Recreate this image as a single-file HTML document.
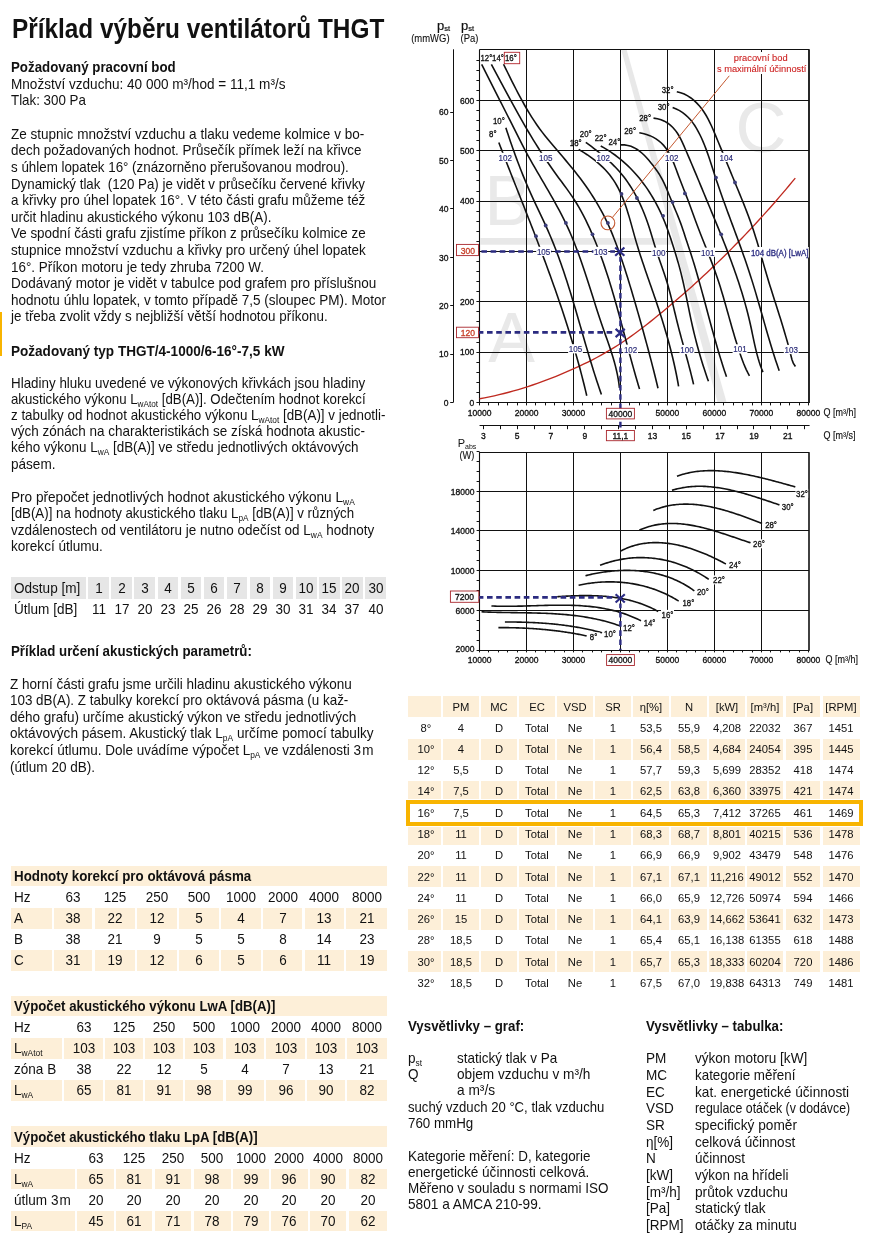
<!DOCTYPE html><html lang="cs"><head><meta charset="utf-8"><title>Příklad výběru ventilátorů THGT</title>
<style>
*{margin:0;padding:0;box-sizing:border-box}
html,body{width:883px;height:1247px;background:#fff;overflow:hidden}
body{position:relative;font-family:"Liberation Sans", Arial, Helvetica, sans-serif;color:#111}
.tb{position:absolute;white-space:nowrap;transform-origin:0 0}
.ct{position:absolute;white-space:nowrap;text-align:center;transform-origin:50% 0}
sub{font-size:0.62em;vertical-align:-3.3px;line-height:0}
.yb{position:absolute;left:0;top:312px;width:1.9px;height:44px;background:#f8b400}
.gb{position:absolute;background:#e6e6e6}
.pb{position:absolute;background:#fdefd8}
.hl{position:absolute;left:406px;top:800.2px;width:456.9px;height:25.5px;border:4.7px solid #f8b400;box-shadow:0 0 0 1px #fff}
.chart{position:absolute;left:400px;top:0}
</style></head><body>
<div class="tb " style="left:11.60px;top:14.04px;font-size:27.3px;line-height:30px;transform:scaleX(0.8925);font-weight:bold;">Příklad výběru ventilátorů THGT</div>
<div class="tb " style="left:10.80px;top:58.57px;font-size:14.2px;line-height:16.61px;transform:scaleX(0.9370);"><b>Požadovaný pracovní bod</b></div>
<div class="tb " style="left:10.80px;top:75.77px;font-size:14.2px;line-height:16.61px;transform:scaleX(0.9557);">Množství vzduchu: 40 000 m³/hod = 11,1 m³/s</div>
<div class="tb " style="left:10.80px;top:91.57px;font-size:14.2px;line-height:16.61px;transform:scaleX(0.9400);">Tlak: 300 Pa</div>
<div class="tb " style="left:10.80px;top:125.72px;font-size:14.2px;line-height:16.61px;transform:scaleX(0.9530);">Ze stupnic množství vzduchu a tlaku vedeme kolmice v bo-</div>
<div class="tb " style="left:10.80px;top:142.33px;font-size:14.2px;line-height:16.61px;transform:scaleX(0.9457);">dech požadovaných hodnot. Průsečík přímek leží na křivce</div>
<div class="tb " style="left:10.80px;top:158.94px;font-size:14.2px;line-height:16.61px;transform:scaleX(0.9410);">s úhlem lopatek 16° (znázorněno přerušovanou modrou).</div>
<div class="tb " style="left:10.80px;top:175.55px;font-size:14.2px;line-height:16.61px;transform:scaleX(0.9371);">Dynamický tlak &nbsp;(120 Pa) je vidět v průsečíku červené křivky</div>
<div class="tb " style="left:10.80px;top:192.16px;font-size:14.2px;line-height:16.61px;transform:scaleX(0.9476);">a křivky pro úhel lopatek 16°. V této části grafu můžeme též</div>
<div class="tb " style="left:10.80px;top:208.77px;font-size:14.2px;line-height:16.61px;transform:scaleX(0.9433);">určit hladinu akustického výkonu 103 dB(A).</div>
<div class="tb " style="left:10.80px;top:225.38px;font-size:14.2px;line-height:16.61px;transform:scaleX(0.9449);">Ve spodní části grafu zjistíme příkon z průsečíku kolmice ze</div>
<div class="tb " style="left:10.80px;top:241.99px;font-size:14.2px;line-height:16.61px;transform:scaleX(0.9492);">stupnice množství vzduchu a křivky pro určený úhel lopatek</div>
<div class="tb " style="left:10.80px;top:258.60px;font-size:14.2px;line-height:16.61px;transform:scaleX(0.9453);">16°. Příkon motoru je tedy zhruba 7200 W.</div>
<div class="tb " style="left:10.80px;top:275.21px;font-size:14.2px;line-height:16.61px;transform:scaleX(0.9530);">Dodávaný motor je vidět v tabulce pod grafem pro příslušnou</div>
<div class="tb " style="left:10.80px;top:291.82px;font-size:14.2px;line-height:16.61px;transform:scaleX(0.9530);">hodnotu úhlu lopatek, v tomto případě 7,5 (sloupec PM). Motor</div>
<div class="tb " style="left:10.80px;top:308.43px;font-size:14.2px;line-height:16.61px;transform:scaleX(0.9448);">je třeba zvolit vždy s nejbližší větší hodnotou příkonu.</div>
<div class="yb"></div>
<div class="tb " style="left:10.80px;top:342.57px;font-size:14.2px;line-height:16.61px;transform:scaleX(0.9550);"><b>Požadovaný typ THGT/4-1000/6-16°-7,5 kW</b></div>
<div class="tb " style="left:10.80px;top:375.03px;font-size:14.2px;line-height:16.1px;transform:scaleX(0.9438);">Hladiny hluku uvedené ve výkonových křivkách jsou hladiny</div>
<div class="tb " style="left:10.80px;top:391.13px;font-size:14.2px;line-height:16.1px;transform:scaleX(0.9332);">akustického výkonu L<sub>wAtot</sub> [dB(A)]. Odečtením hodnot korekcí</div>
<div class="tb " style="left:10.80px;top:407.23px;font-size:14.2px;line-height:16.1px;transform:scaleX(0.9423);">z tabulky od hodnot akustického výkonu L<sub>wAtot</sub> [dB(A)] v jednotli-</div>
<div class="tb " style="left:10.80px;top:423.33px;font-size:14.2px;line-height:16.1px;transform:scaleX(0.9490);">vých zónách na charakteristikách se získá hodnota akustic-</div>
<div class="tb " style="left:10.80px;top:439.43px;font-size:14.2px;line-height:16.1px;transform:scaleX(0.9468);">kého výkonu L<sub>wA</sub> [dB(A)] ve středu jednotlivých oktávových</div>
<div class="tb " style="left:10.80px;top:455.53px;font-size:14.2px;line-height:16.1px;transform:scaleX(0.9550);">pásem.</div>
<div class="tb " style="left:10.80px;top:488.68px;font-size:14.2px;line-height:16.6px;transform:scaleX(0.9590);">Pro přepočet jednotlivých hodnot akustického výkonu L<sub>wA</sub></div>
<div class="tb " style="left:10.80px;top:505.28px;font-size:14.2px;line-height:16.6px;transform:scaleX(0.9364);">[dB(A)] na hodnoty akustického tlaku L<sub>pA</sub> [dB(A)] v různých</div>
<div class="tb " style="left:10.80px;top:521.88px;font-size:14.2px;line-height:16.6px;transform:scaleX(0.9504);">vzdálenostech od ventilátoru je nutno odečíst od L<sub>wA</sub> hodnoty</div>
<div class="tb " style="left:10.80px;top:538.48px;font-size:14.2px;line-height:16.6px;transform:scaleX(0.9550);">korekcí útlumu.</div>
<div class="gb" style="left:10.9px;top:577.1px;width:75.2px;height:21.6px"></div>
<div class="gb" style="left:88.30px;top:577.1px;width:20.5px;height:21.6px"></div>
<div class="gb" style="left:111.38px;top:577.1px;width:20.5px;height:21.6px"></div>
<div class="gb" style="left:134.46px;top:577.1px;width:20.5px;height:21.6px"></div>
<div class="gb" style="left:157.54px;top:577.1px;width:20.5px;height:21.6px"></div>
<div class="gb" style="left:180.62px;top:577.1px;width:20.5px;height:21.6px"></div>
<div class="gb" style="left:203.70px;top:577.1px;width:20.5px;height:21.6px"></div>
<div class="gb" style="left:226.78px;top:577.1px;width:20.5px;height:21.6px"></div>
<div class="gb" style="left:249.86px;top:577.1px;width:20.5px;height:21.6px"></div>
<div class="gb" style="left:272.94px;top:577.1px;width:20.5px;height:21.6px"></div>
<div class="gb" style="left:296.02px;top:577.1px;width:20.5px;height:21.6px"></div>
<div class="gb" style="left:319.10px;top:577.1px;width:20.5px;height:21.6px"></div>
<div class="gb" style="left:342.18px;top:577.1px;width:20.5px;height:21.6px"></div>
<div class="gb" style="left:365.26px;top:577.1px;width:20.5px;height:21.6px"></div>
<div class="tb " style="left:13.60px;top:579.68px;font-size:14.2px;line-height:16px;transform:scaleX(0.9550);">Odstup [m]</div>
<div class="tb " style="left:13.60px;top:600.88px;font-size:14.2px;line-height:16px;transform:scaleX(0.9550);">Útlum [dB]</div>
<div class="ct" style="left:68.55px;top:579.68px;width:60px;font-size:14.2px;line-height:16px;transform:scaleX(0.95)">1</div>
<div class="ct" style="left:68.55px;top:600.88px;width:60px;font-size:14.2px;line-height:16px;transform:scaleX(0.95)">11</div>
<div class="ct" style="left:91.63px;top:579.68px;width:60px;font-size:14.2px;line-height:16px;transform:scaleX(0.95)">2</div>
<div class="ct" style="left:91.63px;top:600.88px;width:60px;font-size:14.2px;line-height:16px;transform:scaleX(0.95)">17</div>
<div class="ct" style="left:114.71px;top:579.68px;width:60px;font-size:14.2px;line-height:16px;transform:scaleX(0.95)">3</div>
<div class="ct" style="left:114.71px;top:600.88px;width:60px;font-size:14.2px;line-height:16px;transform:scaleX(0.95)">20</div>
<div class="ct" style="left:137.79px;top:579.68px;width:60px;font-size:14.2px;line-height:16px;transform:scaleX(0.95)">4</div>
<div class="ct" style="left:137.79px;top:600.88px;width:60px;font-size:14.2px;line-height:16px;transform:scaleX(0.95)">23</div>
<div class="ct" style="left:160.87px;top:579.68px;width:60px;font-size:14.2px;line-height:16px;transform:scaleX(0.95)">5</div>
<div class="ct" style="left:160.87px;top:600.88px;width:60px;font-size:14.2px;line-height:16px;transform:scaleX(0.95)">25</div>
<div class="ct" style="left:183.95px;top:579.68px;width:60px;font-size:14.2px;line-height:16px;transform:scaleX(0.95)">6</div>
<div class="ct" style="left:183.95px;top:600.88px;width:60px;font-size:14.2px;line-height:16px;transform:scaleX(0.95)">26</div>
<div class="ct" style="left:207.03px;top:579.68px;width:60px;font-size:14.2px;line-height:16px;transform:scaleX(0.95)">7</div>
<div class="ct" style="left:207.03px;top:600.88px;width:60px;font-size:14.2px;line-height:16px;transform:scaleX(0.95)">28</div>
<div class="ct" style="left:230.11px;top:579.68px;width:60px;font-size:14.2px;line-height:16px;transform:scaleX(0.95)">8</div>
<div class="ct" style="left:230.11px;top:600.88px;width:60px;font-size:14.2px;line-height:16px;transform:scaleX(0.95)">29</div>
<div class="ct" style="left:253.19px;top:579.68px;width:60px;font-size:14.2px;line-height:16px;transform:scaleX(0.95)">9</div>
<div class="ct" style="left:253.19px;top:600.88px;width:60px;font-size:14.2px;line-height:16px;transform:scaleX(0.95)">30</div>
<div class="ct" style="left:276.27px;top:579.68px;width:60px;font-size:14.2px;line-height:16px;transform:scaleX(0.95)">10</div>
<div class="ct" style="left:276.27px;top:600.88px;width:60px;font-size:14.2px;line-height:16px;transform:scaleX(0.95)">31</div>
<div class="ct" style="left:299.35px;top:579.68px;width:60px;font-size:14.2px;line-height:16px;transform:scaleX(0.95)">15</div>
<div class="ct" style="left:299.35px;top:600.88px;width:60px;font-size:14.2px;line-height:16px;transform:scaleX(0.95)">34</div>
<div class="ct" style="left:322.43px;top:579.68px;width:60px;font-size:14.2px;line-height:16px;transform:scaleX(0.95)">20</div>
<div class="ct" style="left:322.43px;top:600.88px;width:60px;font-size:14.2px;line-height:16px;transform:scaleX(0.95)">37</div>
<div class="ct" style="left:345.51px;top:579.68px;width:60px;font-size:14.2px;line-height:16px;transform:scaleX(0.95)">30</div>
<div class="ct" style="left:345.51px;top:600.88px;width:60px;font-size:14.2px;line-height:16px;transform:scaleX(0.95)">40</div>
<div class="tb " style="left:10.80px;top:642.67px;font-size:14.2px;line-height:16.61px;transform:scaleX(0.9370);"><b>Příklad určení akustických parametrů:</b></div>
<div class="tb " style="left:9.90px;top:675.81px;font-size:14.2px;line-height:16.54px;transform:scaleX(0.9527);">Z horní části grafu jsme určili hladinu akustického výkonu</div>
<div class="tb " style="left:9.90px;top:692.35px;font-size:14.2px;line-height:16.54px;transform:scaleX(0.9450);">103 dB(A). Z tabulky korekcí pro oktávová pásma (u kaž-</div>
<div class="tb " style="left:9.90px;top:708.89px;font-size:14.2px;line-height:16.54px;transform:scaleX(0.9522);">dého grafu) určíme akustický výkon ve středu jednotlivých</div>
<div class="tb " style="left:9.90px;top:725.43px;font-size:14.2px;line-height:16.54px;transform:scaleX(0.9571);">oktávových pásem. Akustický tlak L<sub>pA</sub> určíme pomocí tabulky</div>
<div class="tb " style="left:9.90px;top:741.97px;font-size:14.2px;line-height:16.54px;transform:scaleX(0.9518);">korekcí útlumu. Dole uvádíme výpočet L<sub>pA</sub> ve vzdálenosti 3&#8202;m</div>
<div class="tb " style="left:9.90px;top:758.51px;font-size:14.2px;line-height:16.54px;transform:scaleX(0.9550);">(útlum 20 dB).</div>
<div class="pb" style="left:10.9px;top:865.7px;width:376.2px;height:20.4px"></div>
<div class="tb " style="left:13.50px;top:868.08px;font-size:14.2px;line-height:16px;transform:scaleX(0.9400);"><b>Hodnoty korekcí pro oktávová pásma</b></div>
<div class="tb " style="left:13.90px;top:889.15px;font-size:14.2px;line-height:16px;transform:scaleX(0.9550);">Hz</div>
<div class="ct" style="left:43.15px;top:889.15px;width:60px;font-size:14.2px;line-height:16px;transform:scaleX(0.95)">63</div>
<div class="ct" style="left:84.95px;top:889.15px;width:60px;font-size:14.2px;line-height:16px;transform:scaleX(0.95)">125</div>
<div class="ct" style="left:126.85px;top:889.15px;width:60px;font-size:14.2px;line-height:16px;transform:scaleX(0.95)">250</div>
<div class="ct" style="left:168.80px;top:889.15px;width:60px;font-size:14.2px;line-height:16px;transform:scaleX(0.95)">500</div>
<div class="ct" style="left:211.00px;top:889.15px;width:60px;font-size:14.2px;line-height:16px;transform:scaleX(0.95)">1000</div>
<div class="ct" style="left:252.65px;top:889.15px;width:60px;font-size:14.2px;line-height:16px;transform:scaleX(0.95)">2000</div>
<div class="ct" style="left:294.20px;top:889.15px;width:60px;font-size:14.2px;line-height:16px;transform:scaleX(0.95)">4000</div>
<div class="ct" style="left:336.60px;top:889.15px;width:60px;font-size:14.2px;line-height:16px;transform:scaleX(0.95)">8000</div>
<div class="pb" style="left:10.9px;top:907.94px;width:40.7px;height:20.7px"></div>
<div class="pb" style="left:53.9px;top:907.94px;width:38.5px;height:20.7px"></div>
<div class="pb" style="left:95.1px;top:907.94px;width:39.7px;height:20.7px"></div>
<div class="pb" style="left:137px;top:907.94px;width:39.7px;height:20.7px"></div>
<div class="pb" style="left:179px;top:907.94px;width:39.6px;height:20.7px"></div>
<div class="pb" style="left:221.3px;top:907.94px;width:39.4px;height:20.7px"></div>
<div class="pb" style="left:263.4px;top:907.94px;width:38.5px;height:20.7px"></div>
<div class="pb" style="left:304.6px;top:907.94px;width:39.2px;height:20.7px"></div>
<div class="pb" style="left:346.1px;top:907.94px;width:41.0px;height:20.7px"></div>
<div class="tb " style="left:13.90px;top:910.22px;font-size:14.2px;line-height:16px;transform:scaleX(0.9550);">A</div>
<div class="ct" style="left:43.15px;top:910.22px;width:60px;font-size:14.2px;line-height:16px;transform:scaleX(0.95)">38</div>
<div class="ct" style="left:84.95px;top:910.22px;width:60px;font-size:14.2px;line-height:16px;transform:scaleX(0.95)">22</div>
<div class="ct" style="left:126.85px;top:910.22px;width:60px;font-size:14.2px;line-height:16px;transform:scaleX(0.95)">12</div>
<div class="ct" style="left:168.80px;top:910.22px;width:60px;font-size:14.2px;line-height:16px;transform:scaleX(0.95)">5</div>
<div class="ct" style="left:211.00px;top:910.22px;width:60px;font-size:14.2px;line-height:16px;transform:scaleX(0.95)">4</div>
<div class="ct" style="left:252.65px;top:910.22px;width:60px;font-size:14.2px;line-height:16px;transform:scaleX(0.95)">7</div>
<div class="ct" style="left:294.20px;top:910.22px;width:60px;font-size:14.2px;line-height:16px;transform:scaleX(0.95)">13</div>
<div class="ct" style="left:336.60px;top:910.22px;width:60px;font-size:14.2px;line-height:16px;transform:scaleX(0.95)">21</div>
<div class="tb " style="left:13.90px;top:931.29px;font-size:14.2px;line-height:16px;transform:scaleX(0.9550);">B</div>
<div class="ct" style="left:43.15px;top:931.29px;width:60px;font-size:14.2px;line-height:16px;transform:scaleX(0.95)">38</div>
<div class="ct" style="left:84.95px;top:931.29px;width:60px;font-size:14.2px;line-height:16px;transform:scaleX(0.95)">21</div>
<div class="ct" style="left:126.85px;top:931.29px;width:60px;font-size:14.2px;line-height:16px;transform:scaleX(0.95)">9</div>
<div class="ct" style="left:168.80px;top:931.29px;width:60px;font-size:14.2px;line-height:16px;transform:scaleX(0.95)">5</div>
<div class="ct" style="left:211.00px;top:931.29px;width:60px;font-size:14.2px;line-height:16px;transform:scaleX(0.95)">5</div>
<div class="ct" style="left:252.65px;top:931.29px;width:60px;font-size:14.2px;line-height:16px;transform:scaleX(0.95)">8</div>
<div class="ct" style="left:294.20px;top:931.29px;width:60px;font-size:14.2px;line-height:16px;transform:scaleX(0.95)">14</div>
<div class="ct" style="left:336.60px;top:931.29px;width:60px;font-size:14.2px;line-height:16px;transform:scaleX(0.95)">23</div>
<div class="pb" style="left:10.9px;top:950.08px;width:40.7px;height:20.7px"></div>
<div class="pb" style="left:53.9px;top:950.08px;width:38.5px;height:20.7px"></div>
<div class="pb" style="left:95.1px;top:950.08px;width:39.7px;height:20.7px"></div>
<div class="pb" style="left:137px;top:950.08px;width:39.7px;height:20.7px"></div>
<div class="pb" style="left:179px;top:950.08px;width:39.6px;height:20.7px"></div>
<div class="pb" style="left:221.3px;top:950.08px;width:39.4px;height:20.7px"></div>
<div class="pb" style="left:263.4px;top:950.08px;width:38.5px;height:20.7px"></div>
<div class="pb" style="left:304.6px;top:950.08px;width:39.2px;height:20.7px"></div>
<div class="pb" style="left:346.1px;top:950.08px;width:41.0px;height:20.7px"></div>
<div class="tb " style="left:13.90px;top:952.36px;font-size:14.2px;line-height:16px;transform:scaleX(0.9550);">C</div>
<div class="ct" style="left:43.15px;top:952.36px;width:60px;font-size:14.2px;line-height:16px;transform:scaleX(0.95)">31</div>
<div class="ct" style="left:84.95px;top:952.36px;width:60px;font-size:14.2px;line-height:16px;transform:scaleX(0.95)">19</div>
<div class="ct" style="left:126.85px;top:952.36px;width:60px;font-size:14.2px;line-height:16px;transform:scaleX(0.95)">12</div>
<div class="ct" style="left:168.80px;top:952.36px;width:60px;font-size:14.2px;line-height:16px;transform:scaleX(0.95)">6</div>
<div class="ct" style="left:211.00px;top:952.36px;width:60px;font-size:14.2px;line-height:16px;transform:scaleX(0.95)">5</div>
<div class="ct" style="left:252.65px;top:952.36px;width:60px;font-size:14.2px;line-height:16px;transform:scaleX(0.95)">6</div>
<div class="ct" style="left:294.20px;top:952.36px;width:60px;font-size:14.2px;line-height:16px;transform:scaleX(0.95)">11</div>
<div class="ct" style="left:336.60px;top:952.36px;width:60px;font-size:14.2px;line-height:16px;transform:scaleX(0.95)">19</div>
<div class="pb" style="left:10.9px;top:995.7px;width:376.2px;height:20.4px"></div>
<div class="tb " style="left:13.50px;top:998.08px;font-size:14.2px;line-height:16px;transform:scaleX(0.9330);"><b>Výpočet akustického výkonu LwA [dB(A)]</b></div>
<div class="tb " style="left:13.90px;top:1019.15px;font-size:14.2px;line-height:16px;transform:scaleX(0.9550);">Hz</div>
<div class="ct" style="left:53.55px;top:1019.15px;width:60px;font-size:14.2px;line-height:16px;transform:scaleX(0.95)">63</div>
<div class="ct" style="left:94.00px;top:1019.15px;width:60px;font-size:14.2px;line-height:16px;transform:scaleX(0.95)">125</div>
<div class="ct" style="left:134.10px;top:1019.15px;width:60px;font-size:14.2px;line-height:16px;transform:scaleX(0.95)">250</div>
<div class="ct" style="left:174.30px;top:1019.15px;width:60px;font-size:14.2px;line-height:16px;transform:scaleX(0.95)">500</div>
<div class="ct" style="left:214.95px;top:1019.15px;width:60px;font-size:14.2px;line-height:16px;transform:scaleX(0.95)">1000</div>
<div class="ct" style="left:255.50px;top:1019.15px;width:60px;font-size:14.2px;line-height:16px;transform:scaleX(0.95)">2000</div>
<div class="ct" style="left:296.05px;top:1019.15px;width:60px;font-size:14.2px;line-height:16px;transform:scaleX(0.95)">4000</div>
<div class="ct" style="left:337.15px;top:1019.15px;width:60px;font-size:14.2px;line-height:16px;transform:scaleX(0.95)">8000</div>
<div class="pb" style="left:10.9px;top:1037.94px;width:50.7px;height:20.7px"></div>
<div class="pb" style="left:64.1px;top:1037.94px;width:38.9px;height:20.7px"></div>
<div class="pb" style="left:105.3px;top:1037.94px;width:37.4px;height:20.7px"></div>
<div class="pb" style="left:145.2px;top:1037.94px;width:37.8px;height:20.7px"></div>
<div class="pb" style="left:185.3px;top:1037.94px;width:38.0px;height:20.7px"></div>
<div class="pb" style="left:226px;top:1037.94px;width:37.9px;height:20.7px"></div>
<div class="pb" style="left:266.4px;top:1037.94px;width:38.2px;height:20.7px"></div>
<div class="pb" style="left:307.1px;top:1037.94px;width:37.9px;height:20.7px"></div>
<div class="pb" style="left:347.2px;top:1037.94px;width:39.9px;height:20.7px"></div>
<div class="tb " style="left:13.90px;top:1040.22px;font-size:14.2px;line-height:16px;transform:scaleX(0.9550);">L<sub>wAtot</sub></div>
<div class="ct" style="left:53.55px;top:1040.22px;width:60px;font-size:14.2px;line-height:16px;transform:scaleX(0.95)">103</div>
<div class="ct" style="left:94.00px;top:1040.22px;width:60px;font-size:14.2px;line-height:16px;transform:scaleX(0.95)">103</div>
<div class="ct" style="left:134.10px;top:1040.22px;width:60px;font-size:14.2px;line-height:16px;transform:scaleX(0.95)">103</div>
<div class="ct" style="left:174.30px;top:1040.22px;width:60px;font-size:14.2px;line-height:16px;transform:scaleX(0.95)">103</div>
<div class="ct" style="left:214.95px;top:1040.22px;width:60px;font-size:14.2px;line-height:16px;transform:scaleX(0.95)">103</div>
<div class="ct" style="left:255.50px;top:1040.22px;width:60px;font-size:14.2px;line-height:16px;transform:scaleX(0.95)">103</div>
<div class="ct" style="left:296.05px;top:1040.22px;width:60px;font-size:14.2px;line-height:16px;transform:scaleX(0.95)">103</div>
<div class="ct" style="left:337.15px;top:1040.22px;width:60px;font-size:14.2px;line-height:16px;transform:scaleX(0.95)">103</div>
<div class="tb " style="left:13.90px;top:1061.29px;font-size:14.2px;line-height:16px;transform:scaleX(0.9550);">zóna B</div>
<div class="ct" style="left:53.55px;top:1061.29px;width:60px;font-size:14.2px;line-height:16px;transform:scaleX(0.95)">38</div>
<div class="ct" style="left:94.00px;top:1061.29px;width:60px;font-size:14.2px;line-height:16px;transform:scaleX(0.95)">22</div>
<div class="ct" style="left:134.10px;top:1061.29px;width:60px;font-size:14.2px;line-height:16px;transform:scaleX(0.95)">12</div>
<div class="ct" style="left:174.30px;top:1061.29px;width:60px;font-size:14.2px;line-height:16px;transform:scaleX(0.95)">5</div>
<div class="ct" style="left:214.95px;top:1061.29px;width:60px;font-size:14.2px;line-height:16px;transform:scaleX(0.95)">4</div>
<div class="ct" style="left:255.50px;top:1061.29px;width:60px;font-size:14.2px;line-height:16px;transform:scaleX(0.95)">7</div>
<div class="ct" style="left:296.05px;top:1061.29px;width:60px;font-size:14.2px;line-height:16px;transform:scaleX(0.95)">13</div>
<div class="ct" style="left:337.15px;top:1061.29px;width:60px;font-size:14.2px;line-height:16px;transform:scaleX(0.95)">21</div>
<div class="pb" style="left:10.9px;top:1080.08px;width:50.7px;height:20.7px"></div>
<div class="pb" style="left:64.1px;top:1080.08px;width:38.9px;height:20.7px"></div>
<div class="pb" style="left:105.3px;top:1080.08px;width:37.4px;height:20.7px"></div>
<div class="pb" style="left:145.2px;top:1080.08px;width:37.8px;height:20.7px"></div>
<div class="pb" style="left:185.3px;top:1080.08px;width:38.0px;height:20.7px"></div>
<div class="pb" style="left:226px;top:1080.08px;width:37.9px;height:20.7px"></div>
<div class="pb" style="left:266.4px;top:1080.08px;width:38.2px;height:20.7px"></div>
<div class="pb" style="left:307.1px;top:1080.08px;width:37.9px;height:20.7px"></div>
<div class="pb" style="left:347.2px;top:1080.08px;width:39.9px;height:20.7px"></div>
<div class="tb " style="left:13.90px;top:1082.36px;font-size:14.2px;line-height:16px;transform:scaleX(0.9550);">L<sub>wA</sub></div>
<div class="ct" style="left:53.55px;top:1082.36px;width:60px;font-size:14.2px;line-height:16px;transform:scaleX(0.95)">65</div>
<div class="ct" style="left:94.00px;top:1082.36px;width:60px;font-size:14.2px;line-height:16px;transform:scaleX(0.95)">81</div>
<div class="ct" style="left:134.10px;top:1082.36px;width:60px;font-size:14.2px;line-height:16px;transform:scaleX(0.95)">91</div>
<div class="ct" style="left:174.30px;top:1082.36px;width:60px;font-size:14.2px;line-height:16px;transform:scaleX(0.95)">98</div>
<div class="ct" style="left:214.95px;top:1082.36px;width:60px;font-size:14.2px;line-height:16px;transform:scaleX(0.95)">99</div>
<div class="ct" style="left:255.50px;top:1082.36px;width:60px;font-size:14.2px;line-height:16px;transform:scaleX(0.95)">96</div>
<div class="ct" style="left:296.05px;top:1082.36px;width:60px;font-size:14.2px;line-height:16px;transform:scaleX(0.95)">90</div>
<div class="ct" style="left:337.15px;top:1082.36px;width:60px;font-size:14.2px;line-height:16px;transform:scaleX(0.95)">82</div>
<div class="pb" style="left:10.9px;top:1126.3px;width:376.2px;height:20.4px"></div>
<div class="tb " style="left:13.50px;top:1128.68px;font-size:14.2px;line-height:16px;transform:scaleX(0.9330);"><b>Výpočet akustického tlaku LpA [dB(A)]</b></div>
<div class="tb " style="left:13.90px;top:1149.75px;font-size:14.2px;line-height:16px;transform:scaleX(0.9550);">Hz</div>
<div class="ct" style="left:65.55px;top:1149.75px;width:60px;font-size:14.2px;line-height:16px;transform:scaleX(0.95)">63</div>
<div class="ct" style="left:104.30px;top:1149.75px;width:60px;font-size:14.2px;line-height:16px;transform:scaleX(0.95)">125</div>
<div class="ct" style="left:143.30px;top:1149.75px;width:60px;font-size:14.2px;line-height:16px;transform:scaleX(0.95)">250</div>
<div class="ct" style="left:182.35px;top:1149.75px;width:60px;font-size:14.2px;line-height:16px;transform:scaleX(0.95)">500</div>
<div class="ct" style="left:220.95px;top:1149.75px;width:60px;font-size:14.2px;line-height:16px;transform:scaleX(0.95)">1000</div>
<div class="ct" style="left:259.45px;top:1149.75px;width:60px;font-size:14.2px;line-height:16px;transform:scaleX(0.95)">2000</div>
<div class="ct" style="left:298.40px;top:1149.75px;width:60px;font-size:14.2px;line-height:16px;transform:scaleX(0.95)">4000</div>
<div class="ct" style="left:338.20px;top:1149.75px;width:60px;font-size:14.2px;line-height:16px;transform:scaleX(0.95)">8000</div>
<div class="pb" style="left:10.9px;top:1168.54px;width:63.8px;height:20.7px"></div>
<div class="pb" style="left:77.2px;top:1168.54px;width:36.7px;height:20.7px"></div>
<div class="pb" style="left:116.2px;top:1168.54px;width:36.2px;height:20.7px"></div>
<div class="pb" style="left:155.2px;top:1168.54px;width:36.2px;height:20.7px"></div>
<div class="pb" style="left:194.1px;top:1168.54px;width:36.5px;height:20.7px"></div>
<div class="pb" style="left:233.3px;top:1168.54px;width:35.3px;height:20.7px"></div>
<div class="pb" style="left:271.3px;top:1168.54px;width:36.3px;height:20.7px"></div>
<div class="pb" style="left:310.3px;top:1168.54px;width:36.2px;height:20.7px"></div>
<div class="pb" style="left:349.3px;top:1168.54px;width:37.8px;height:20.7px"></div>
<div class="tb " style="left:13.90px;top:1170.82px;font-size:14.2px;line-height:16px;transform:scaleX(0.9550);">L<sub>wA</sub></div>
<div class="ct" style="left:65.55px;top:1170.82px;width:60px;font-size:14.2px;line-height:16px;transform:scaleX(0.95)">65</div>
<div class="ct" style="left:104.30px;top:1170.82px;width:60px;font-size:14.2px;line-height:16px;transform:scaleX(0.95)">81</div>
<div class="ct" style="left:143.30px;top:1170.82px;width:60px;font-size:14.2px;line-height:16px;transform:scaleX(0.95)">91</div>
<div class="ct" style="left:182.35px;top:1170.82px;width:60px;font-size:14.2px;line-height:16px;transform:scaleX(0.95)">98</div>
<div class="ct" style="left:220.95px;top:1170.82px;width:60px;font-size:14.2px;line-height:16px;transform:scaleX(0.95)">99</div>
<div class="ct" style="left:259.45px;top:1170.82px;width:60px;font-size:14.2px;line-height:16px;transform:scaleX(0.95)">96</div>
<div class="ct" style="left:298.40px;top:1170.82px;width:60px;font-size:14.2px;line-height:16px;transform:scaleX(0.95)">90</div>
<div class="ct" style="left:338.20px;top:1170.82px;width:60px;font-size:14.2px;line-height:16px;transform:scaleX(0.95)">82</div>
<div class="tb " style="left:13.90px;top:1191.89px;font-size:14.2px;line-height:16px;transform:scaleX(0.9550);">útlum 3&#8202;m</div>
<div class="ct" style="left:65.55px;top:1191.89px;width:60px;font-size:14.2px;line-height:16px;transform:scaleX(0.95)">20</div>
<div class="ct" style="left:104.30px;top:1191.89px;width:60px;font-size:14.2px;line-height:16px;transform:scaleX(0.95)">20</div>
<div class="ct" style="left:143.30px;top:1191.89px;width:60px;font-size:14.2px;line-height:16px;transform:scaleX(0.95)">20</div>
<div class="ct" style="left:182.35px;top:1191.89px;width:60px;font-size:14.2px;line-height:16px;transform:scaleX(0.95)">20</div>
<div class="ct" style="left:220.95px;top:1191.89px;width:60px;font-size:14.2px;line-height:16px;transform:scaleX(0.95)">20</div>
<div class="ct" style="left:259.45px;top:1191.89px;width:60px;font-size:14.2px;line-height:16px;transform:scaleX(0.95)">20</div>
<div class="ct" style="left:298.40px;top:1191.89px;width:60px;font-size:14.2px;line-height:16px;transform:scaleX(0.95)">20</div>
<div class="ct" style="left:338.20px;top:1191.89px;width:60px;font-size:14.2px;line-height:16px;transform:scaleX(0.95)">20</div>
<div class="pb" style="left:10.9px;top:1210.68px;width:63.8px;height:20.7px"></div>
<div class="pb" style="left:77.2px;top:1210.68px;width:36.7px;height:20.7px"></div>
<div class="pb" style="left:116.2px;top:1210.68px;width:36.2px;height:20.7px"></div>
<div class="pb" style="left:155.2px;top:1210.68px;width:36.2px;height:20.7px"></div>
<div class="pb" style="left:194.1px;top:1210.68px;width:36.5px;height:20.7px"></div>
<div class="pb" style="left:233.3px;top:1210.68px;width:35.3px;height:20.7px"></div>
<div class="pb" style="left:271.3px;top:1210.68px;width:36.3px;height:20.7px"></div>
<div class="pb" style="left:310.3px;top:1210.68px;width:36.2px;height:20.7px"></div>
<div class="pb" style="left:349.3px;top:1210.68px;width:37.8px;height:20.7px"></div>
<div class="tb " style="left:13.90px;top:1212.96px;font-size:14.2px;line-height:16px;transform:scaleX(0.9550);">L<sub>PA</sub></div>
<div class="ct" style="left:65.55px;top:1212.96px;width:60px;font-size:14.2px;line-height:16px;transform:scaleX(0.95)">45</div>
<div class="ct" style="left:104.30px;top:1212.96px;width:60px;font-size:14.2px;line-height:16px;transform:scaleX(0.95)">61</div>
<div class="ct" style="left:143.30px;top:1212.96px;width:60px;font-size:14.2px;line-height:16px;transform:scaleX(0.95)">71</div>
<div class="ct" style="left:182.35px;top:1212.96px;width:60px;font-size:14.2px;line-height:16px;transform:scaleX(0.95)">78</div>
<div class="ct" style="left:220.95px;top:1212.96px;width:60px;font-size:14.2px;line-height:16px;transform:scaleX(0.95)">79</div>
<div class="ct" style="left:259.45px;top:1212.96px;width:60px;font-size:14.2px;line-height:16px;transform:scaleX(0.95)">76</div>
<div class="ct" style="left:298.40px;top:1212.96px;width:60px;font-size:14.2px;line-height:16px;transform:scaleX(0.95)">70</div>
<div class="ct" style="left:338.20px;top:1212.96px;width:60px;font-size:14.2px;line-height:16px;transform:scaleX(0.95)">62</div>
<div class="pb" style="left:408.3px;top:696.20px;width:32.5px;height:21.1px"></div>
<div class="pb" style="left:443px;top:696.20px;width:35.8px;height:21.1px"></div>
<div class="pb" style="left:481px;top:696.20px;width:35.9px;height:21.1px"></div>
<div class="pb" style="left:519px;top:696.20px;width:35.9px;height:21.1px"></div>
<div class="pb" style="left:557.1px;top:696.20px;width:35.9px;height:21.1px"></div>
<div class="pb" style="left:595.2px;top:696.20px;width:35.8px;height:21.1px"></div>
<div class="pb" style="left:633.2px;top:696.20px;width:35.4px;height:21.1px"></div>
<div class="pb" style="left:671.3px;top:696.20px;width:35.6px;height:21.1px"></div>
<div class="pb" style="left:709.4px;top:696.20px;width:35.3px;height:21.1px"></div>
<div class="pb" style="left:747.4px;top:696.20px;width:35.4px;height:21.1px"></div>
<div class="pb" style="left:785.5px;top:696.20px;width:34.8px;height:21.1px"></div>
<div class="pb" style="left:823px;top:696.20px;width:36.9px;height:21.1px"></div>
<div class="ct" style="left:435.90px;top:699.08px;width:50px;font-size:11.6px;line-height:16px;transform:scaleX(0.97)">PM</div>
<div class="ct" style="left:473.95px;top:699.08px;width:50px;font-size:11.6px;line-height:16px;transform:scaleX(0.97)">MC</div>
<div class="ct" style="left:511.95px;top:699.08px;width:50px;font-size:11.6px;line-height:16px;transform:scaleX(0.97)">EC</div>
<div class="ct" style="left:550.05px;top:699.08px;width:50px;font-size:11.6px;line-height:16px;transform:scaleX(0.97)">VSD</div>
<div class="ct" style="left:588.10px;top:699.08px;width:50px;font-size:11.6px;line-height:16px;transform:scaleX(0.97)">SR</div>
<div class="ct" style="left:625.90px;top:699.08px;width:50px;font-size:11.6px;line-height:16px;transform:scaleX(0.97)">η[%]</div>
<div class="ct" style="left:664.10px;top:699.08px;width:50px;font-size:11.6px;line-height:16px;transform:scaleX(0.97)">N</div>
<div class="ct" style="left:702.05px;top:699.08px;width:50px;font-size:11.6px;line-height:16px;transform:scaleX(0.97)">[kW]</div>
<div class="ct" style="left:740.10px;top:699.08px;width:50px;font-size:11.6px;line-height:16px;transform:scaleX(0.97)">[m³/h]</div>
<div class="ct" style="left:777.90px;top:699.08px;width:50px;font-size:11.6px;line-height:16px;transform:scaleX(0.97)">[Pa]</div>
<div class="ct" style="left:816.45px;top:699.08px;width:50px;font-size:11.6px;line-height:16px;transform:scaleX(0.97)">[RPM]</div>
<div class="ct" style="left:400.75px;top:719.68px;width:50px;font-size:11.6px;line-height:16px;transform:scaleX(0.97)">8°</div>
<div class="ct" style="left:435.90px;top:719.68px;width:50px;font-size:11.6px;line-height:16px;transform:scaleX(0.97)">4</div>
<div class="ct" style="left:473.95px;top:719.68px;width:50px;font-size:11.6px;line-height:16px;transform:scaleX(0.97)">D</div>
<div class="ct" style="left:511.95px;top:719.68px;width:50px;font-size:11.6px;line-height:16px;transform:scaleX(0.97)">Total</div>
<div class="ct" style="left:550.05px;top:719.68px;width:50px;font-size:11.6px;line-height:16px;transform:scaleX(0.97)">Ne</div>
<div class="ct" style="left:588.10px;top:719.68px;width:50px;font-size:11.6px;line-height:16px;transform:scaleX(0.97)">1</div>
<div class="ct" style="left:625.90px;top:719.68px;width:50px;font-size:11.6px;line-height:16px;transform:scaleX(0.97)">53,5</div>
<div class="ct" style="left:664.10px;top:719.68px;width:50px;font-size:11.6px;line-height:16px;transform:scaleX(0.97)">55,9</div>
<div class="ct" style="left:702.05px;top:719.68px;width:50px;font-size:11.6px;line-height:16px;transform:scaleX(0.97)">4,208</div>
<div class="ct" style="left:740.10px;top:719.68px;width:50px;font-size:11.6px;line-height:16px;transform:scaleX(0.97)">22032</div>
<div class="ct" style="left:777.90px;top:719.68px;width:50px;font-size:11.6px;line-height:16px;transform:scaleX(0.97)">367</div>
<div class="ct" style="left:816.45px;top:719.68px;width:50px;font-size:11.6px;line-height:16px;transform:scaleX(0.97)">1451</div>
<div class="pb" style="left:408.3px;top:738.70px;width:32.5px;height:21.1px"></div>
<div class="pb" style="left:443px;top:738.70px;width:35.8px;height:21.1px"></div>
<div class="pb" style="left:481px;top:738.70px;width:35.9px;height:21.1px"></div>
<div class="pb" style="left:519px;top:738.70px;width:35.9px;height:21.1px"></div>
<div class="pb" style="left:557.1px;top:738.70px;width:35.9px;height:21.1px"></div>
<div class="pb" style="left:595.2px;top:738.70px;width:35.8px;height:21.1px"></div>
<div class="pb" style="left:633.2px;top:738.70px;width:35.4px;height:21.1px"></div>
<div class="pb" style="left:671.3px;top:738.70px;width:35.6px;height:21.1px"></div>
<div class="pb" style="left:709.4px;top:738.70px;width:35.3px;height:21.1px"></div>
<div class="pb" style="left:747.4px;top:738.70px;width:35.4px;height:21.1px"></div>
<div class="pb" style="left:785.5px;top:738.70px;width:34.8px;height:21.1px"></div>
<div class="pb" style="left:823px;top:738.70px;width:36.9px;height:21.1px"></div>
<div class="ct" style="left:400.75px;top:740.95px;width:50px;font-size:11.6px;line-height:16px;transform:scaleX(0.97)">10°</div>
<div class="ct" style="left:435.90px;top:740.95px;width:50px;font-size:11.6px;line-height:16px;transform:scaleX(0.97)">4</div>
<div class="ct" style="left:473.95px;top:740.95px;width:50px;font-size:11.6px;line-height:16px;transform:scaleX(0.97)">D</div>
<div class="ct" style="left:511.95px;top:740.95px;width:50px;font-size:11.6px;line-height:16px;transform:scaleX(0.97)">Total</div>
<div class="ct" style="left:550.05px;top:740.95px;width:50px;font-size:11.6px;line-height:16px;transform:scaleX(0.97)">Ne</div>
<div class="ct" style="left:588.10px;top:740.95px;width:50px;font-size:11.6px;line-height:16px;transform:scaleX(0.97)">1</div>
<div class="ct" style="left:625.90px;top:740.95px;width:50px;font-size:11.6px;line-height:16px;transform:scaleX(0.97)">56,4</div>
<div class="ct" style="left:664.10px;top:740.95px;width:50px;font-size:11.6px;line-height:16px;transform:scaleX(0.97)">58,5</div>
<div class="ct" style="left:702.05px;top:740.95px;width:50px;font-size:11.6px;line-height:16px;transform:scaleX(0.97)">4,684</div>
<div class="ct" style="left:740.10px;top:740.95px;width:50px;font-size:11.6px;line-height:16px;transform:scaleX(0.97)">24054</div>
<div class="ct" style="left:777.90px;top:740.95px;width:50px;font-size:11.6px;line-height:16px;transform:scaleX(0.97)">395</div>
<div class="ct" style="left:816.45px;top:740.95px;width:50px;font-size:11.6px;line-height:16px;transform:scaleX(0.97)">1445</div>
<div class="ct" style="left:400.75px;top:762.22px;width:50px;font-size:11.6px;line-height:16px;transform:scaleX(0.97)">12°</div>
<div class="ct" style="left:435.90px;top:762.22px;width:50px;font-size:11.6px;line-height:16px;transform:scaleX(0.97)">5,5</div>
<div class="ct" style="left:473.95px;top:762.22px;width:50px;font-size:11.6px;line-height:16px;transform:scaleX(0.97)">D</div>
<div class="ct" style="left:511.95px;top:762.22px;width:50px;font-size:11.6px;line-height:16px;transform:scaleX(0.97)">Total</div>
<div class="ct" style="left:550.05px;top:762.22px;width:50px;font-size:11.6px;line-height:16px;transform:scaleX(0.97)">Ne</div>
<div class="ct" style="left:588.10px;top:762.22px;width:50px;font-size:11.6px;line-height:16px;transform:scaleX(0.97)">1</div>
<div class="ct" style="left:625.90px;top:762.22px;width:50px;font-size:11.6px;line-height:16px;transform:scaleX(0.97)">57,7</div>
<div class="ct" style="left:664.10px;top:762.22px;width:50px;font-size:11.6px;line-height:16px;transform:scaleX(0.97)">59,3</div>
<div class="ct" style="left:702.05px;top:762.22px;width:50px;font-size:11.6px;line-height:16px;transform:scaleX(0.97)">5,699</div>
<div class="ct" style="left:740.10px;top:762.22px;width:50px;font-size:11.6px;line-height:16px;transform:scaleX(0.97)">28352</div>
<div class="ct" style="left:777.90px;top:762.22px;width:50px;font-size:11.6px;line-height:16px;transform:scaleX(0.97)">418</div>
<div class="ct" style="left:816.45px;top:762.22px;width:50px;font-size:11.6px;line-height:16px;transform:scaleX(0.97)">1474</div>
<div class="pb" style="left:408.3px;top:781.20px;width:32.5px;height:21.1px"></div>
<div class="pb" style="left:443px;top:781.20px;width:35.8px;height:21.1px"></div>
<div class="pb" style="left:481px;top:781.20px;width:35.9px;height:21.1px"></div>
<div class="pb" style="left:519px;top:781.20px;width:35.9px;height:21.1px"></div>
<div class="pb" style="left:557.1px;top:781.20px;width:35.9px;height:21.1px"></div>
<div class="pb" style="left:595.2px;top:781.20px;width:35.8px;height:21.1px"></div>
<div class="pb" style="left:633.2px;top:781.20px;width:35.4px;height:21.1px"></div>
<div class="pb" style="left:671.3px;top:781.20px;width:35.6px;height:21.1px"></div>
<div class="pb" style="left:709.4px;top:781.20px;width:35.3px;height:21.1px"></div>
<div class="pb" style="left:747.4px;top:781.20px;width:35.4px;height:21.1px"></div>
<div class="pb" style="left:785.5px;top:781.20px;width:34.8px;height:21.1px"></div>
<div class="pb" style="left:823px;top:781.20px;width:36.9px;height:21.1px"></div>
<div class="ct" style="left:400.75px;top:783.49px;width:50px;font-size:11.6px;line-height:16px;transform:scaleX(0.97)">14°</div>
<div class="ct" style="left:435.90px;top:783.49px;width:50px;font-size:11.6px;line-height:16px;transform:scaleX(0.97)">7,5</div>
<div class="ct" style="left:473.95px;top:783.49px;width:50px;font-size:11.6px;line-height:16px;transform:scaleX(0.97)">D</div>
<div class="ct" style="left:511.95px;top:783.49px;width:50px;font-size:11.6px;line-height:16px;transform:scaleX(0.97)">Total</div>
<div class="ct" style="left:550.05px;top:783.49px;width:50px;font-size:11.6px;line-height:16px;transform:scaleX(0.97)">Ne</div>
<div class="ct" style="left:588.10px;top:783.49px;width:50px;font-size:11.6px;line-height:16px;transform:scaleX(0.97)">1</div>
<div class="ct" style="left:625.90px;top:783.49px;width:50px;font-size:11.6px;line-height:16px;transform:scaleX(0.97)">62,5</div>
<div class="ct" style="left:664.10px;top:783.49px;width:50px;font-size:11.6px;line-height:16px;transform:scaleX(0.97)">63,8</div>
<div class="ct" style="left:702.05px;top:783.49px;width:50px;font-size:11.6px;line-height:16px;transform:scaleX(0.97)">6,360</div>
<div class="ct" style="left:740.10px;top:783.49px;width:50px;font-size:11.6px;line-height:16px;transform:scaleX(0.97)">33975</div>
<div class="ct" style="left:777.90px;top:783.49px;width:50px;font-size:11.6px;line-height:16px;transform:scaleX(0.97)">421</div>
<div class="ct" style="left:816.45px;top:783.49px;width:50px;font-size:11.6px;line-height:16px;transform:scaleX(0.97)">1474</div>
<div class="ct" style="left:400.75px;top:804.76px;width:50px;font-size:11.6px;line-height:16px;transform:scaleX(0.97)">16°</div>
<div class="ct" style="left:435.90px;top:804.76px;width:50px;font-size:11.6px;line-height:16px;transform:scaleX(0.97)">7,5</div>
<div class="ct" style="left:473.95px;top:804.76px;width:50px;font-size:11.6px;line-height:16px;transform:scaleX(0.97)">D</div>
<div class="ct" style="left:511.95px;top:804.76px;width:50px;font-size:11.6px;line-height:16px;transform:scaleX(0.97)">Total</div>
<div class="ct" style="left:550.05px;top:804.76px;width:50px;font-size:11.6px;line-height:16px;transform:scaleX(0.97)">Ne</div>
<div class="ct" style="left:588.10px;top:804.76px;width:50px;font-size:11.6px;line-height:16px;transform:scaleX(0.97)">1</div>
<div class="ct" style="left:625.90px;top:804.76px;width:50px;font-size:11.6px;line-height:16px;transform:scaleX(0.97)">64,5</div>
<div class="ct" style="left:664.10px;top:804.76px;width:50px;font-size:11.6px;line-height:16px;transform:scaleX(0.97)">65,3</div>
<div class="ct" style="left:702.05px;top:804.76px;width:50px;font-size:11.6px;line-height:16px;transform:scaleX(0.97)">7,412</div>
<div class="ct" style="left:740.10px;top:804.76px;width:50px;font-size:11.6px;line-height:16px;transform:scaleX(0.97)">37265</div>
<div class="ct" style="left:777.90px;top:804.76px;width:50px;font-size:11.6px;line-height:16px;transform:scaleX(0.97)">461</div>
<div class="ct" style="left:816.45px;top:804.76px;width:50px;font-size:11.6px;line-height:16px;transform:scaleX(0.97)">1469</div>
<div class="pb" style="left:408.3px;top:823.70px;width:32.5px;height:21.1px"></div>
<div class="pb" style="left:443px;top:823.70px;width:35.8px;height:21.1px"></div>
<div class="pb" style="left:481px;top:823.70px;width:35.9px;height:21.1px"></div>
<div class="pb" style="left:519px;top:823.70px;width:35.9px;height:21.1px"></div>
<div class="pb" style="left:557.1px;top:823.70px;width:35.9px;height:21.1px"></div>
<div class="pb" style="left:595.2px;top:823.70px;width:35.8px;height:21.1px"></div>
<div class="pb" style="left:633.2px;top:823.70px;width:35.4px;height:21.1px"></div>
<div class="pb" style="left:671.3px;top:823.70px;width:35.6px;height:21.1px"></div>
<div class="pb" style="left:709.4px;top:823.70px;width:35.3px;height:21.1px"></div>
<div class="pb" style="left:747.4px;top:823.70px;width:35.4px;height:21.1px"></div>
<div class="pb" style="left:785.5px;top:823.70px;width:34.8px;height:21.1px"></div>
<div class="pb" style="left:823px;top:823.70px;width:36.9px;height:21.1px"></div>
<div class="ct" style="left:400.75px;top:826.03px;width:50px;font-size:11.6px;line-height:16px;transform:scaleX(0.97)">18°</div>
<div class="ct" style="left:435.90px;top:826.03px;width:50px;font-size:11.6px;line-height:16px;transform:scaleX(0.97)">11</div>
<div class="ct" style="left:473.95px;top:826.03px;width:50px;font-size:11.6px;line-height:16px;transform:scaleX(0.97)">D</div>
<div class="ct" style="left:511.95px;top:826.03px;width:50px;font-size:11.6px;line-height:16px;transform:scaleX(0.97)">Total</div>
<div class="ct" style="left:550.05px;top:826.03px;width:50px;font-size:11.6px;line-height:16px;transform:scaleX(0.97)">Ne</div>
<div class="ct" style="left:588.10px;top:826.03px;width:50px;font-size:11.6px;line-height:16px;transform:scaleX(0.97)">1</div>
<div class="ct" style="left:625.90px;top:826.03px;width:50px;font-size:11.6px;line-height:16px;transform:scaleX(0.97)">68,3</div>
<div class="ct" style="left:664.10px;top:826.03px;width:50px;font-size:11.6px;line-height:16px;transform:scaleX(0.97)">68,7</div>
<div class="ct" style="left:702.05px;top:826.03px;width:50px;font-size:11.6px;line-height:16px;transform:scaleX(0.97)">8,801</div>
<div class="ct" style="left:740.10px;top:826.03px;width:50px;font-size:11.6px;line-height:16px;transform:scaleX(0.97)">40215</div>
<div class="ct" style="left:777.90px;top:826.03px;width:50px;font-size:11.6px;line-height:16px;transform:scaleX(0.97)">536</div>
<div class="ct" style="left:816.45px;top:826.03px;width:50px;font-size:11.6px;line-height:16px;transform:scaleX(0.97)">1478</div>
<div class="ct" style="left:400.75px;top:847.30px;width:50px;font-size:11.6px;line-height:16px;transform:scaleX(0.97)">20°</div>
<div class="ct" style="left:435.90px;top:847.30px;width:50px;font-size:11.6px;line-height:16px;transform:scaleX(0.97)">11</div>
<div class="ct" style="left:473.95px;top:847.30px;width:50px;font-size:11.6px;line-height:16px;transform:scaleX(0.97)">D</div>
<div class="ct" style="left:511.95px;top:847.30px;width:50px;font-size:11.6px;line-height:16px;transform:scaleX(0.97)">Total</div>
<div class="ct" style="left:550.05px;top:847.30px;width:50px;font-size:11.6px;line-height:16px;transform:scaleX(0.97)">Ne</div>
<div class="ct" style="left:588.10px;top:847.30px;width:50px;font-size:11.6px;line-height:16px;transform:scaleX(0.97)">1</div>
<div class="ct" style="left:625.90px;top:847.30px;width:50px;font-size:11.6px;line-height:16px;transform:scaleX(0.97)">66,9</div>
<div class="ct" style="left:664.10px;top:847.30px;width:50px;font-size:11.6px;line-height:16px;transform:scaleX(0.97)">66,9</div>
<div class="ct" style="left:702.05px;top:847.30px;width:50px;font-size:11.6px;line-height:16px;transform:scaleX(0.97)">9,902</div>
<div class="ct" style="left:740.10px;top:847.30px;width:50px;font-size:11.6px;line-height:16px;transform:scaleX(0.97)">43479</div>
<div class="ct" style="left:777.90px;top:847.30px;width:50px;font-size:11.6px;line-height:16px;transform:scaleX(0.97)">548</div>
<div class="ct" style="left:816.45px;top:847.30px;width:50px;font-size:11.6px;line-height:16px;transform:scaleX(0.97)">1476</div>
<div class="pb" style="left:408.3px;top:866.20px;width:32.5px;height:21.1px"></div>
<div class="pb" style="left:443px;top:866.20px;width:35.8px;height:21.1px"></div>
<div class="pb" style="left:481px;top:866.20px;width:35.9px;height:21.1px"></div>
<div class="pb" style="left:519px;top:866.20px;width:35.9px;height:21.1px"></div>
<div class="pb" style="left:557.1px;top:866.20px;width:35.9px;height:21.1px"></div>
<div class="pb" style="left:595.2px;top:866.20px;width:35.8px;height:21.1px"></div>
<div class="pb" style="left:633.2px;top:866.20px;width:35.4px;height:21.1px"></div>
<div class="pb" style="left:671.3px;top:866.20px;width:35.6px;height:21.1px"></div>
<div class="pb" style="left:709.4px;top:866.20px;width:35.3px;height:21.1px"></div>
<div class="pb" style="left:747.4px;top:866.20px;width:35.4px;height:21.1px"></div>
<div class="pb" style="left:785.5px;top:866.20px;width:34.8px;height:21.1px"></div>
<div class="pb" style="left:823px;top:866.20px;width:36.9px;height:21.1px"></div>
<div class="ct" style="left:400.75px;top:868.57px;width:50px;font-size:11.6px;line-height:16px;transform:scaleX(0.97)">22°</div>
<div class="ct" style="left:435.90px;top:868.57px;width:50px;font-size:11.6px;line-height:16px;transform:scaleX(0.97)">11</div>
<div class="ct" style="left:473.95px;top:868.57px;width:50px;font-size:11.6px;line-height:16px;transform:scaleX(0.97)">D</div>
<div class="ct" style="left:511.95px;top:868.57px;width:50px;font-size:11.6px;line-height:16px;transform:scaleX(0.97)">Total</div>
<div class="ct" style="left:550.05px;top:868.57px;width:50px;font-size:11.6px;line-height:16px;transform:scaleX(0.97)">Ne</div>
<div class="ct" style="left:588.10px;top:868.57px;width:50px;font-size:11.6px;line-height:16px;transform:scaleX(0.97)">1</div>
<div class="ct" style="left:625.90px;top:868.57px;width:50px;font-size:11.6px;line-height:16px;transform:scaleX(0.97)">67,1</div>
<div class="ct" style="left:664.10px;top:868.57px;width:50px;font-size:11.6px;line-height:16px;transform:scaleX(0.97)">67,1</div>
<div class="ct" style="left:702.05px;top:868.57px;width:50px;font-size:11.6px;line-height:16px;transform:scaleX(0.97)">11,216</div>
<div class="ct" style="left:740.10px;top:868.57px;width:50px;font-size:11.6px;line-height:16px;transform:scaleX(0.97)">49012</div>
<div class="ct" style="left:777.90px;top:868.57px;width:50px;font-size:11.6px;line-height:16px;transform:scaleX(0.97)">552</div>
<div class="ct" style="left:816.45px;top:868.57px;width:50px;font-size:11.6px;line-height:16px;transform:scaleX(0.97)">1470</div>
<div class="ct" style="left:400.75px;top:889.84px;width:50px;font-size:11.6px;line-height:16px;transform:scaleX(0.97)">24°</div>
<div class="ct" style="left:435.90px;top:889.84px;width:50px;font-size:11.6px;line-height:16px;transform:scaleX(0.97)">11</div>
<div class="ct" style="left:473.95px;top:889.84px;width:50px;font-size:11.6px;line-height:16px;transform:scaleX(0.97)">D</div>
<div class="ct" style="left:511.95px;top:889.84px;width:50px;font-size:11.6px;line-height:16px;transform:scaleX(0.97)">Total</div>
<div class="ct" style="left:550.05px;top:889.84px;width:50px;font-size:11.6px;line-height:16px;transform:scaleX(0.97)">Ne</div>
<div class="ct" style="left:588.10px;top:889.84px;width:50px;font-size:11.6px;line-height:16px;transform:scaleX(0.97)">1</div>
<div class="ct" style="left:625.90px;top:889.84px;width:50px;font-size:11.6px;line-height:16px;transform:scaleX(0.97)">66,0</div>
<div class="ct" style="left:664.10px;top:889.84px;width:50px;font-size:11.6px;line-height:16px;transform:scaleX(0.97)">65,9</div>
<div class="ct" style="left:702.05px;top:889.84px;width:50px;font-size:11.6px;line-height:16px;transform:scaleX(0.97)">12,726</div>
<div class="ct" style="left:740.10px;top:889.84px;width:50px;font-size:11.6px;line-height:16px;transform:scaleX(0.97)">50974</div>
<div class="ct" style="left:777.90px;top:889.84px;width:50px;font-size:11.6px;line-height:16px;transform:scaleX(0.97)">594</div>
<div class="ct" style="left:816.45px;top:889.84px;width:50px;font-size:11.6px;line-height:16px;transform:scaleX(0.97)">1466</div>
<div class="pb" style="left:408.3px;top:908.70px;width:32.5px;height:21.1px"></div>
<div class="pb" style="left:443px;top:908.70px;width:35.8px;height:21.1px"></div>
<div class="pb" style="left:481px;top:908.70px;width:35.9px;height:21.1px"></div>
<div class="pb" style="left:519px;top:908.70px;width:35.9px;height:21.1px"></div>
<div class="pb" style="left:557.1px;top:908.70px;width:35.9px;height:21.1px"></div>
<div class="pb" style="left:595.2px;top:908.70px;width:35.8px;height:21.1px"></div>
<div class="pb" style="left:633.2px;top:908.70px;width:35.4px;height:21.1px"></div>
<div class="pb" style="left:671.3px;top:908.70px;width:35.6px;height:21.1px"></div>
<div class="pb" style="left:709.4px;top:908.70px;width:35.3px;height:21.1px"></div>
<div class="pb" style="left:747.4px;top:908.70px;width:35.4px;height:21.1px"></div>
<div class="pb" style="left:785.5px;top:908.70px;width:34.8px;height:21.1px"></div>
<div class="pb" style="left:823px;top:908.70px;width:36.9px;height:21.1px"></div>
<div class="ct" style="left:400.75px;top:911.11px;width:50px;font-size:11.6px;line-height:16px;transform:scaleX(0.97)">26°</div>
<div class="ct" style="left:435.90px;top:911.11px;width:50px;font-size:11.6px;line-height:16px;transform:scaleX(0.97)">15</div>
<div class="ct" style="left:473.95px;top:911.11px;width:50px;font-size:11.6px;line-height:16px;transform:scaleX(0.97)">D</div>
<div class="ct" style="left:511.95px;top:911.11px;width:50px;font-size:11.6px;line-height:16px;transform:scaleX(0.97)">Total</div>
<div class="ct" style="left:550.05px;top:911.11px;width:50px;font-size:11.6px;line-height:16px;transform:scaleX(0.97)">Ne</div>
<div class="ct" style="left:588.10px;top:911.11px;width:50px;font-size:11.6px;line-height:16px;transform:scaleX(0.97)">1</div>
<div class="ct" style="left:625.90px;top:911.11px;width:50px;font-size:11.6px;line-height:16px;transform:scaleX(0.97)">64,1</div>
<div class="ct" style="left:664.10px;top:911.11px;width:50px;font-size:11.6px;line-height:16px;transform:scaleX(0.97)">63,9</div>
<div class="ct" style="left:702.05px;top:911.11px;width:50px;font-size:11.6px;line-height:16px;transform:scaleX(0.97)">14,662</div>
<div class="ct" style="left:740.10px;top:911.11px;width:50px;font-size:11.6px;line-height:16px;transform:scaleX(0.97)">53641</div>
<div class="ct" style="left:777.90px;top:911.11px;width:50px;font-size:11.6px;line-height:16px;transform:scaleX(0.97)">632</div>
<div class="ct" style="left:816.45px;top:911.11px;width:50px;font-size:11.6px;line-height:16px;transform:scaleX(0.97)">1473</div>
<div class="ct" style="left:400.75px;top:932.38px;width:50px;font-size:11.6px;line-height:16px;transform:scaleX(0.97)">28°</div>
<div class="ct" style="left:435.90px;top:932.38px;width:50px;font-size:11.6px;line-height:16px;transform:scaleX(0.97)">18,5</div>
<div class="ct" style="left:473.95px;top:932.38px;width:50px;font-size:11.6px;line-height:16px;transform:scaleX(0.97)">D</div>
<div class="ct" style="left:511.95px;top:932.38px;width:50px;font-size:11.6px;line-height:16px;transform:scaleX(0.97)">Total</div>
<div class="ct" style="left:550.05px;top:932.38px;width:50px;font-size:11.6px;line-height:16px;transform:scaleX(0.97)">Ne</div>
<div class="ct" style="left:588.10px;top:932.38px;width:50px;font-size:11.6px;line-height:16px;transform:scaleX(0.97)">1</div>
<div class="ct" style="left:625.90px;top:932.38px;width:50px;font-size:11.6px;line-height:16px;transform:scaleX(0.97)">65,4</div>
<div class="ct" style="left:664.10px;top:932.38px;width:50px;font-size:11.6px;line-height:16px;transform:scaleX(0.97)">65,1</div>
<div class="ct" style="left:702.05px;top:932.38px;width:50px;font-size:11.6px;line-height:16px;transform:scaleX(0.97)">16,138</div>
<div class="ct" style="left:740.10px;top:932.38px;width:50px;font-size:11.6px;line-height:16px;transform:scaleX(0.97)">61355</div>
<div class="ct" style="left:777.90px;top:932.38px;width:50px;font-size:11.6px;line-height:16px;transform:scaleX(0.97)">618</div>
<div class="ct" style="left:816.45px;top:932.38px;width:50px;font-size:11.6px;line-height:16px;transform:scaleX(0.97)">1488</div>
<div class="pb" style="left:408.3px;top:951.20px;width:32.5px;height:21.1px"></div>
<div class="pb" style="left:443px;top:951.20px;width:35.8px;height:21.1px"></div>
<div class="pb" style="left:481px;top:951.20px;width:35.9px;height:21.1px"></div>
<div class="pb" style="left:519px;top:951.20px;width:35.9px;height:21.1px"></div>
<div class="pb" style="left:557.1px;top:951.20px;width:35.9px;height:21.1px"></div>
<div class="pb" style="left:595.2px;top:951.20px;width:35.8px;height:21.1px"></div>
<div class="pb" style="left:633.2px;top:951.20px;width:35.4px;height:21.1px"></div>
<div class="pb" style="left:671.3px;top:951.20px;width:35.6px;height:21.1px"></div>
<div class="pb" style="left:709.4px;top:951.20px;width:35.3px;height:21.1px"></div>
<div class="pb" style="left:747.4px;top:951.20px;width:35.4px;height:21.1px"></div>
<div class="pb" style="left:785.5px;top:951.20px;width:34.8px;height:21.1px"></div>
<div class="pb" style="left:823px;top:951.20px;width:36.9px;height:21.1px"></div>
<div class="ct" style="left:400.75px;top:953.65px;width:50px;font-size:11.6px;line-height:16px;transform:scaleX(0.97)">30°</div>
<div class="ct" style="left:435.90px;top:953.65px;width:50px;font-size:11.6px;line-height:16px;transform:scaleX(0.97)">18,5</div>
<div class="ct" style="left:473.95px;top:953.65px;width:50px;font-size:11.6px;line-height:16px;transform:scaleX(0.97)">D</div>
<div class="ct" style="left:511.95px;top:953.65px;width:50px;font-size:11.6px;line-height:16px;transform:scaleX(0.97)">Total</div>
<div class="ct" style="left:550.05px;top:953.65px;width:50px;font-size:11.6px;line-height:16px;transform:scaleX(0.97)">Ne</div>
<div class="ct" style="left:588.10px;top:953.65px;width:50px;font-size:11.6px;line-height:16px;transform:scaleX(0.97)">1</div>
<div class="ct" style="left:625.90px;top:953.65px;width:50px;font-size:11.6px;line-height:16px;transform:scaleX(0.97)">65,7</div>
<div class="ct" style="left:664.10px;top:953.65px;width:50px;font-size:11.6px;line-height:16px;transform:scaleX(0.97)">65,3</div>
<div class="ct" style="left:702.05px;top:953.65px;width:50px;font-size:11.6px;line-height:16px;transform:scaleX(0.97)">18,333</div>
<div class="ct" style="left:740.10px;top:953.65px;width:50px;font-size:11.6px;line-height:16px;transform:scaleX(0.97)">60204</div>
<div class="ct" style="left:777.90px;top:953.65px;width:50px;font-size:11.6px;line-height:16px;transform:scaleX(0.97)">720</div>
<div class="ct" style="left:816.45px;top:953.65px;width:50px;font-size:11.6px;line-height:16px;transform:scaleX(0.97)">1486</div>
<div class="ct" style="left:400.75px;top:974.92px;width:50px;font-size:11.6px;line-height:16px;transform:scaleX(0.97)">32°</div>
<div class="ct" style="left:435.90px;top:974.92px;width:50px;font-size:11.6px;line-height:16px;transform:scaleX(0.97)">18,5</div>
<div class="ct" style="left:473.95px;top:974.92px;width:50px;font-size:11.6px;line-height:16px;transform:scaleX(0.97)">D</div>
<div class="ct" style="left:511.95px;top:974.92px;width:50px;font-size:11.6px;line-height:16px;transform:scaleX(0.97)">Total</div>
<div class="ct" style="left:550.05px;top:974.92px;width:50px;font-size:11.6px;line-height:16px;transform:scaleX(0.97)">Ne</div>
<div class="ct" style="left:588.10px;top:974.92px;width:50px;font-size:11.6px;line-height:16px;transform:scaleX(0.97)">1</div>
<div class="ct" style="left:625.90px;top:974.92px;width:50px;font-size:11.6px;line-height:16px;transform:scaleX(0.97)">67,5</div>
<div class="ct" style="left:664.10px;top:974.92px;width:50px;font-size:11.6px;line-height:16px;transform:scaleX(0.97)">67,0</div>
<div class="ct" style="left:702.05px;top:974.92px;width:50px;font-size:11.6px;line-height:16px;transform:scaleX(0.97)">19,838</div>
<div class="ct" style="left:740.10px;top:974.92px;width:50px;font-size:11.6px;line-height:16px;transform:scaleX(0.97)">64313</div>
<div class="ct" style="left:777.90px;top:974.92px;width:50px;font-size:11.6px;line-height:16px;transform:scaleX(0.97)">749</div>
<div class="ct" style="left:816.45px;top:974.92px;width:50px;font-size:11.6px;line-height:16px;transform:scaleX(0.97)">1481</div>
<div class="hl"></div>
<svg class="chart" width="483" height="690" viewBox="400 0 483 690">
<g font-family='"Liberation Sans", Arial, Helvetica, sans-serif'>
<g fill="#e9e9e9">
<text x="484.6" y="225.0" font-size="69.6">B</text><text x="488.2" y="361.8" font-size="70">A</text><text x="735.6" y="152.4" font-size="70.5">C</text></g>
<polygon points="621.3,50 626.7,50 726.5,402 717.5,402" fill="#e8e8e8"/>
<line x1="480.5" y1="241.3" x2="672" y2="241.3" stroke="#e8e8e8" stroke-width="6.8"/>
<path d="M526.5,49.8V402.4M526.5,452.2V650.4M573.5,49.8V402.4M573.5,452.2V650.4M620.5,49.8V402.4M620.5,452.2V650.4M667.5,49.8V402.4M667.5,452.2V650.4M714.5,49.8V402.4M714.5,452.2V650.4M761.5,49.8V402.4M761.5,452.2V650.4M479.55,352.5H809.0M479.55,301.5H809.0M479.55,251.5H809.0M479.55,201.5H809.0M479.55,150.5H809.0M479.55,100.5H809.0M479.55,610.5H809.0M479.55,570.5H809.0M479.55,530.5H809.0M479.55,491.5H809.0" stroke="#111" stroke-width="1" fill="none"/>
<path d="M479.5,49.5H809.0M479.5,49.5V402.5H809.0" stroke="#111" stroke-width="1.1" fill="none"/>
<path d="M809.0,49.3V402.9" stroke="#111" stroke-width="1.8"/>
<path d="M479.5,452.5H809.0V650.5H479.5Z" stroke="#111" stroke-width="1.1" fill="none"/>
<path d="M476.4,402.5H479.55M476.4,392.5H479.55M476.4,382.5H479.55M476.4,372.5H479.55M476.4,362.5H479.55M476.4,352.5H479.55M476.4,342.5H479.55M476.4,331.5H479.55M476.4,321.5H479.55M476.4,311.5H479.55M476.4,301.5H479.55M476.4,291.5H479.55M476.4,281.5H479.55M476.4,271.5H479.55M476.4,261.5H479.55M476.4,251.5H479.55M476.4,241.5H479.55M476.4,231.5H479.55M476.4,221.5H479.55M476.4,211.5H479.55M476.4,201.5H479.55M476.4,191.5H479.55M476.4,180.5H479.55M476.4,170.5H479.55M476.4,160.5H479.55M476.4,150.5H479.55M476.4,140.5H479.55M476.4,130.5H479.55M476.4,120.5H479.55M476.4,110.5H479.55M476.4,100.5H479.55M476.4,90.5H479.55M476.4,80.5H479.55M476.4,70.5H479.55M476.4,60.5H479.55M450.2,402.5H453.4M450.2,354.5H453.4M450.2,305.5H453.4M450.2,257.5H453.4M450.2,208.5H453.4M450.2,160.5H453.4M450.2,112.5H453.4M453.5,49.3V402.4M479.5,402.4V405.4M479.5,650.4V652.4M488.5,402.4V405.4M488.5,650.4V652.4M498.5,402.4V405.4M498.5,650.4V652.4M507.5,402.4V405.4M507.5,650.4V652.4M517.5,402.4V405.4M517.5,650.4V652.4M526.5,402.4V405.4M526.5,650.4V652.4M535.5,402.4V405.4M535.5,650.4V652.4M545.5,402.4V405.4M545.5,650.4V652.4M554.5,402.4V405.4M554.5,650.4V652.4M564.5,402.4V405.4M564.5,650.4V652.4M573.5,402.4V405.4M573.5,650.4V652.4M582.5,402.4V405.4M582.5,650.4V652.4M592.5,402.4V405.4M592.5,650.4V652.4M601.5,402.4V405.4M601.5,650.4V652.4M611.5,402.4V405.4M611.5,650.4V652.4M620.5,402.4V405.4M620.5,650.4V652.4M629.5,402.4V405.4M629.5,650.4V652.4M639.5,402.4V405.4M639.5,650.4V652.4M648.5,402.4V405.4M648.5,650.4V652.4M658.5,402.4V405.4M658.5,650.4V652.4M667.5,402.4V405.4M667.5,650.4V652.4M676.5,402.4V405.4M676.5,650.4V652.4M686.5,402.4V405.4M686.5,650.4V652.4M695.5,402.4V405.4M695.5,650.4V652.4M705.5,402.4V405.4M705.5,650.4V652.4M714.5,402.4V405.4M714.5,650.4V652.4M723.5,402.4V405.4M723.5,650.4V652.4M733.5,402.4V405.4M733.5,650.4V652.4M742.5,402.4V405.4M742.5,650.4V652.4M752.5,402.4V405.4M752.5,650.4V652.4M761.5,402.4V405.4M761.5,650.4V652.4M770.5,402.4V405.4M770.5,650.4V652.4M780.5,402.4V405.4M780.5,650.4V652.4M789.5,402.4V405.4M789.5,650.4V652.4M799.5,402.4V405.4M799.5,650.4V652.4M808.5,402.4V405.4M808.5,650.4V652.4M479.55,425.5H809.6M483.5,425.5V429.2M500.5,425.5V429.2M517.5,425.5V429.2M534.5,425.5V429.2M550.5,425.5V429.2M567.5,425.5V429.2M584.5,425.5V429.2M601.5,425.5V429.2M618.5,425.5V429.2M635.5,425.5V429.2M652.5,425.5V429.2M669.5,425.5V429.2M686.5,425.5V429.2M703.5,425.5V429.2M720.5,425.5V429.2M737.5,425.5V429.2M753.5,425.5V429.2M770.5,425.5V429.2M787.5,425.5V429.2M804.5,425.5V429.2M476.6,650.5H479.55M476.6,640.5H479.55M476.6,630.5H479.55M476.6,620.5H479.55M476.6,610.5H479.55M476.6,600.5H479.55M476.6,590.5H479.55M476.6,580.5H479.55M476.6,570.5H479.55M476.6,560.5H479.55M476.6,550.5H479.55M476.6,540.5H479.55M476.6,530.5H479.55M476.6,521.5H479.55M476.6,511.5H479.55M476.6,501.5H479.55M476.6,491.5H479.55M476.6,481.5H479.55M476.6,471.5H479.55M476.6,461.5H479.55M476.6,451.5H479.55" stroke="#111" stroke-width="1" fill="none"/>
<text x="474.20" y="405.80" font-size="9.8" textLength="4.74" lengthAdjust="spacingAndGlyphs" text-anchor="end" fill="#111" stroke="#111" stroke-width="0.35">0</text>
<text x="474.20" y="355.47" font-size="9.8" textLength="14.23" lengthAdjust="spacingAndGlyphs" text-anchor="end" fill="#111" stroke="#111" stroke-width="0.35">100</text>
<text x="474.20" y="305.14" font-size="9.8" textLength="14.23" lengthAdjust="spacingAndGlyphs" text-anchor="end" fill="#111" stroke="#111" stroke-width="0.35">200</text>
<text x="474.20" y="204.48" font-size="9.8" textLength="14.23" lengthAdjust="spacingAndGlyphs" text-anchor="end" fill="#111" stroke="#111" stroke-width="0.35">400</text>
<text x="474.20" y="154.15" font-size="9.8" textLength="14.23" lengthAdjust="spacingAndGlyphs" text-anchor="end" fill="#111" stroke="#111" stroke-width="0.35">500</text>
<text x="474.20" y="103.82" font-size="9.8" textLength="14.23" lengthAdjust="spacingAndGlyphs" text-anchor="end" fill="#111" stroke="#111" stroke-width="0.35">600</text>
<text x="448.60" y="405.80" font-size="9.8" textLength="4.74" lengthAdjust="spacingAndGlyphs" text-anchor="end" fill="#111" stroke="#111" stroke-width="0.35">0</text>
<text x="448.60" y="357.40" font-size="9.8" textLength="9.48" lengthAdjust="spacingAndGlyphs" text-anchor="end" fill="#111" stroke="#111" stroke-width="0.35">10</text>
<text x="448.60" y="309.00" font-size="9.8" textLength="9.48" lengthAdjust="spacingAndGlyphs" text-anchor="end" fill="#111" stroke="#111" stroke-width="0.35">20</text>
<text x="448.60" y="260.60" font-size="9.8" textLength="9.48" lengthAdjust="spacingAndGlyphs" text-anchor="end" fill="#111" stroke="#111" stroke-width="0.35">30</text>
<text x="448.60" y="212.20" font-size="9.8" textLength="9.48" lengthAdjust="spacingAndGlyphs" text-anchor="end" fill="#111" stroke="#111" stroke-width="0.35">40</text>
<text x="448.60" y="163.80" font-size="9.8" textLength="9.48" lengthAdjust="spacingAndGlyphs" text-anchor="end" fill="#111" stroke="#111" stroke-width="0.35">50</text>
<text x="448.60" y="115.40" font-size="9.8" textLength="9.48" lengthAdjust="spacingAndGlyphs" text-anchor="end" fill="#111" stroke="#111" stroke-width="0.35">60</text>
<text x="474.40" y="652.46" font-size="9.8" textLength="18.97" lengthAdjust="spacingAndGlyphs" text-anchor="end" fill="#111" stroke="#111" stroke-width="0.35">2000</text>
<text x="474.40" y="613.90" font-size="9.8" textLength="18.97" lengthAdjust="spacingAndGlyphs" text-anchor="end" fill="#111" stroke="#111" stroke-width="0.35">6000</text>
<text x="474.40" y="574.14" font-size="9.8" textLength="23.71" lengthAdjust="spacingAndGlyphs" text-anchor="end" fill="#111" stroke="#111" stroke-width="0.35">10000</text>
<text x="474.40" y="534.38" font-size="9.8" textLength="23.71" lengthAdjust="spacingAndGlyphs" text-anchor="end" fill="#111" stroke="#111" stroke-width="0.35">14000</text>
<text x="474.40" y="494.62" font-size="9.8" textLength="23.71" lengthAdjust="spacingAndGlyphs" text-anchor="end" fill="#111" stroke="#111" stroke-width="0.35">18000</text>
<text x="479.55" y="415.80" font-size="9.8" textLength="23.71" lengthAdjust="spacingAndGlyphs" text-anchor="middle" fill="#111" stroke="#111" stroke-width="0.35">10000</text>
<text x="479.55" y="663.00" font-size="9.8" textLength="23.71" lengthAdjust="spacingAndGlyphs" text-anchor="middle" fill="#111" stroke="#111" stroke-width="0.35">10000</text>
<text x="526.53" y="415.80" font-size="9.8" textLength="23.71" lengthAdjust="spacingAndGlyphs" text-anchor="middle" fill="#111" stroke="#111" stroke-width="0.35">20000</text>
<text x="526.53" y="663.00" font-size="9.8" textLength="23.71" lengthAdjust="spacingAndGlyphs" text-anchor="middle" fill="#111" stroke="#111" stroke-width="0.35">20000</text>
<text x="573.51" y="415.80" font-size="9.8" textLength="23.71" lengthAdjust="spacingAndGlyphs" text-anchor="middle" fill="#111" stroke="#111" stroke-width="0.35">30000</text>
<text x="573.51" y="663.00" font-size="9.8" textLength="23.71" lengthAdjust="spacingAndGlyphs" text-anchor="middle" fill="#111" stroke="#111" stroke-width="0.35">30000</text>
<text x="667.47" y="415.80" font-size="9.8" textLength="23.71" lengthAdjust="spacingAndGlyphs" text-anchor="middle" fill="#111" stroke="#111" stroke-width="0.35">50000</text>
<text x="667.47" y="663.00" font-size="9.8" textLength="23.71" lengthAdjust="spacingAndGlyphs" text-anchor="middle" fill="#111" stroke="#111" stroke-width="0.35">50000</text>
<text x="714.45" y="415.80" font-size="9.8" textLength="23.71" lengthAdjust="spacingAndGlyphs" text-anchor="middle" fill="#111" stroke="#111" stroke-width="0.35">60000</text>
<text x="714.45" y="663.00" font-size="9.8" textLength="23.71" lengthAdjust="spacingAndGlyphs" text-anchor="middle" fill="#111" stroke="#111" stroke-width="0.35">60000</text>
<text x="761.43" y="415.80" font-size="9.8" textLength="23.71" lengthAdjust="spacingAndGlyphs" text-anchor="middle" fill="#111" stroke="#111" stroke-width="0.35">70000</text>
<text x="761.43" y="663.00" font-size="9.8" textLength="23.71" lengthAdjust="spacingAndGlyphs" text-anchor="middle" fill="#111" stroke="#111" stroke-width="0.35">70000</text>
<text x="808.41" y="415.80" font-size="9.8" textLength="23.71" lengthAdjust="spacingAndGlyphs" text-anchor="middle" fill="#111" stroke="#111" stroke-width="0.35">80000</text>
<text x="808.41" y="663.00" font-size="9.8" textLength="23.71" lengthAdjust="spacingAndGlyphs" text-anchor="middle" fill="#111" stroke="#111" stroke-width="0.35">80000</text>
<text x="483.31" y="439.30" font-size="9.8" textLength="4.74" lengthAdjust="spacingAndGlyphs" text-anchor="middle" fill="#111" stroke="#111" stroke-width="0.35">3</text>
<text x="517.13" y="439.30" font-size="9.8" textLength="4.74" lengthAdjust="spacingAndGlyphs" text-anchor="middle" fill="#111" stroke="#111" stroke-width="0.35">5</text>
<text x="550.96" y="439.30" font-size="9.8" textLength="4.74" lengthAdjust="spacingAndGlyphs" text-anchor="middle" fill="#111" stroke="#111" stroke-width="0.35">7</text>
<text x="584.79" y="439.30" font-size="9.8" textLength="4.74" lengthAdjust="spacingAndGlyphs" text-anchor="middle" fill="#111" stroke="#111" stroke-width="0.35">9</text>
<text x="652.44" y="439.30" font-size="9.8" textLength="9.48" lengthAdjust="spacingAndGlyphs" text-anchor="middle" fill="#111" stroke="#111" stroke-width="0.35">13</text>
<text x="686.26" y="439.30" font-size="9.8" textLength="9.48" lengthAdjust="spacingAndGlyphs" text-anchor="middle" fill="#111" stroke="#111" stroke-width="0.35">15</text>
<text x="720.09" y="439.30" font-size="9.8" textLength="9.48" lengthAdjust="spacingAndGlyphs" text-anchor="middle" fill="#111" stroke="#111" stroke-width="0.35">17</text>
<text x="753.91" y="439.30" font-size="9.8" textLength="9.48" lengthAdjust="spacingAndGlyphs" text-anchor="middle" fill="#111" stroke="#111" stroke-width="0.35">19</text>
<text x="787.74" y="439.30" font-size="9.8" textLength="9.48" lengthAdjust="spacingAndGlyphs" text-anchor="middle" fill="#111" stroke="#111" stroke-width="0.35">21</text>
<text x="823.40" y="416.00" font-size="10" textLength="32.50" lengthAdjust="spacingAndGlyphs" text-anchor="start" fill="#111" stroke="#111" stroke-width="0.15">Q [m³/h]</text>
<text x="823.40" y="439.30" font-size="10" textLength="32.00" lengthAdjust="spacingAndGlyphs" text-anchor="start" fill="#111" stroke="#111" stroke-width="0.15">Q [m³/s]</text>
<text x="825.40" y="663.00" font-size="10" textLength="32.50" lengthAdjust="spacingAndGlyphs" text-anchor="start" fill="#111" stroke="#111" stroke-width="0.15">Q [m³/h]</text>
<g fill="#111">
<text x="437.0" y="30.4" font-size="13" stroke="#111" stroke-width="0.2">p<tspan font-size="7.5" dy="1">st</tspan></text>
<text x="461.0" y="30.4" font-size="13" stroke="#111" stroke-width="0.2">p<tspan font-size="7.5" dy="1">st</tspan></text>
<text x="457.7" y="447" font-size="11">P<tspan font-size="7" dy="1.5">abs</tspan></text>
</g>
<text x="449.60" y="41.70" font-size="10.3" textLength="38.41" lengthAdjust="spacingAndGlyphs" text-anchor="end" fill="#111" stroke="#111" stroke-width="0.1">(mmWG)</text>
<text x="460.60" y="41.70" font-size="10.3" textLength="17.90" lengthAdjust="spacingAndGlyphs" text-anchor="start" fill="#111" stroke="#111" stroke-width="0.1">(Pa)</text>
<text x="474.40" y="459.30" font-size="10.3" textLength="14.92" lengthAdjust="spacingAndGlyphs" text-anchor="end" fill="#111" stroke="#111" stroke-width="0.1">(W)</text>
<path d="M479.62,398.74 L484.51,397.84 L489.38,396.86 L494.25,395.81 L499.10,394.69 L503.93,393.50 L508.76,392.24 L513.56,390.92 L518.36,389.53 L523.13,388.08 L527.89,386.57 L532.63,384.99 L537.36,383.36 L542.06,381.67 L546.74,379.93 L551.41,378.14 L556.05,376.29 L560.68,374.39 L565.28,372.44 L569.86,370.45 L574.41,368.41 L578.95,366.33 L583.45,364.20 L587.93,362.02 L592.37,359.78 L596.78,357.48 L601.15,355.12 L605.48,352.69 L609.77,350.18 L614.01,347.61 L618.20,344.95 L622.35,342.23 L626.46,339.44 L630.53,336.59 L634.57,333.69 L638.57,330.73 L642.54,327.73 L646.49,324.69 L650.41,321.61 L654.30,318.49 L658.18,315.35 L662.03,312.19 L665.87,309.01 L669.70,305.81 L673.50,302.58 L677.29,299.34 L681.06,296.07 L684.81,292.79 L688.54,289.48 L692.26,286.16 L695.96,282.82 L699.63,279.46 L703.29,276.08 L706.94,272.68 L710.56,269.27 L714.16,265.83 L717.75,262.38 L721.32,258.91 L724.87,255.42 L728.40,251.91 L731.92,248.38 L735.41,244.84 L738.89,241.28 L742.35,237.70 L745.79,234.10 L749.22,230.48 L752.62,226.85 L756.01,223.20 L759.38,219.53 L762.73,215.85 L766.07,212.15 L769.38,208.43 L772.68,204.69 L775.97,200.94 L779.23,197.17 L782.48,193.38 L785.71,189.58 L788.92,185.76 L792.11,181.92 L795.29,178.07" stroke="#bf2a20" stroke-width="1.35" fill="none"/>
<path d="M498.82,142.58 L500.04,145.75 L501.26,148.91 L502.49,152.07 L503.72,155.24 L504.95,158.40 L506.19,161.56 L507.42,164.72 L508.66,167.88 L509.91,171.04 L511.15,174.20 L512.39,177.35 L513.64,180.51 L514.89,183.67 L516.13,186.83 L517.38,189.98 L518.63,193.14 L519.88,196.30 L521.12,199.46 L522.37,202.62 L523.61,205.77 L524.86,208.93 L526.10,212.09 L527.34,215.25 L528.57,218.42 L529.81,221.58 L531.04,224.74 L532.27,227.91 L533.50,231.07 L534.72,234.24 L535.94,237.41 L537.15,240.58 L538.36,243.75 L539.57,246.92 L540.77,250.10 L541.97,253.28 L543.16,256.45 L544.34,259.63 L545.53,262.82 L546.70,266.00 L547.87,269.19 L549.03,272.37 L550.19,275.56 L551.34,278.76 L552.49,281.95 L553.63,285.15 L554.76,288.35 L555.88,291.55 L557.00,294.75 L558.11,297.96 L559.21,301.17 L560.30,304.38 L561.38,307.60 L562.46,310.82 L563.52,314.04 L564.58,317.26 L565.63,320.49 L566.67,323.72 L567.70,326.95 L568.72,330.19 L569.73,333.43 L570.73,336.67 L571.72,339.92 L572.70,343.17 L573.67,346.43 L574.63,349.68 L575.57,352.95 L576.51,356.21 L577.43,359.48 L578.34,362.75 L579.24,366.03 L580.13,369.31 L581.00,372.60 L581.86,375.89 L582.71,379.18 L583.55,382.48 L584.37,385.78 L585.18,389.09 L585.97,392.40 L586.75,395.72 M505.85,127.78 L506.96,131.20 L508.10,134.61 L509.24,138.02 L510.40,141.43 L511.57,144.82 L512.77,148.22 L513.97,151.60 L515.20,154.98 L516.44,158.35 L517.70,161.72 L518.97,165.07 L520.27,168.42 L521.58,171.76 L522.91,175.10 L524.27,178.42 L525.64,181.74 L527.03,185.04 L528.45,188.34 L529.89,191.63 L531.34,194.91 L532.82,198.17 L534.33,201.43 L535.85,204.68 L537.38,207.92 L538.93,211.16 L540.47,214.40 L542.01,217.65 L543.54,220.89 L545.04,224.15 L546.53,227.41 L547.99,230.69 L549.42,233.98 L550.82,237.28 L552.20,240.59 L553.54,243.91 L554.86,247.24 L556.16,250.58 L557.43,253.94 L558.67,257.30 L559.90,260.67 L561.10,264.05 L562.28,267.44 L563.44,270.84 L564.59,274.24 L565.71,277.65 L566.83,281.07 L567.92,284.49 L569.00,287.92 L570.07,291.35 L571.13,294.79 L572.17,298.23 L573.21,301.68 L574.24,305.13 L575.26,308.58 L576.27,312.03 L577.28,315.49 L578.28,318.95 L579.28,322.41 L580.28,325.87 L581.28,329.33 L582.27,332.78 L583.27,336.24 L584.27,339.70 L585.27,343.16 L586.28,346.61 L587.29,350.06 L588.31,353.51 L589.34,356.96 L590.37,360.40 L591.41,363.84 L592.47,367.27 L593.53,370.70 L594.61,374.12 L595.71,377.53 L596.81,380.94 L597.94,384.35 L599.08,387.74 L600.24,391.13 L601.41,394.51 M481.67,64.31 L483.68,68.31 L485.69,72.31 L487.70,76.31 L489.72,80.30 L491.74,84.30 L493.76,88.29 L495.78,92.28 L497.80,96.27 L499.82,100.27 L501.84,104.26 L503.86,108.25 L505.88,112.24 L507.89,116.24 L509.90,120.23 L511.91,124.22 L513.91,128.22 L515.92,132.22 L517.92,136.21 L519.93,140.20 L521.96,144.18 L524.02,148.15 L526.12,152.09 L528.26,156.02 L530.43,159.93 L532.63,163.83 L534.86,167.71 L537.10,171.59 L539.36,175.46 L541.62,179.33 L543.89,183.19 L546.14,187.06 L548.39,190.93 L550.63,194.81 L552.84,198.69 L555.02,202.59 L557.17,206.51 L559.29,210.44 L561.36,214.39 L563.38,218.36 L565.34,222.36 L567.25,226.39 L569.09,230.44 L570.87,234.52 L572.60,238.63 L574.28,242.76 L575.90,246.92 L577.49,251.09 L579.03,255.28 L580.54,259.49 L582.01,263.72 L583.46,267.95 L584.88,272.20 L586.28,276.46 L587.67,280.73 L589.04,285.00 L590.40,289.28 L591.76,293.56 L593.12,297.84 L594.48,302.12 L595.84,306.40 L597.22,310.67 L598.61,314.93 L600.02,319.19 L601.46,323.44 L602.92,327.68 L604.40,331.90 L605.88,336.12 L607.36,340.34 L608.82,344.57 L610.25,348.80 L611.63,353.04 L612.95,357.30 L614.20,361.58 L615.37,365.88 L616.43,370.21 L617.39,374.58 L618.21,378.98 L618.90,383.42 L619.44,387.91 M491.38,64.32 L493.52,68.33 L495.66,72.34 L497.80,76.36 L499.94,80.38 L502.09,84.40 L504.24,88.41 L506.40,92.43 L508.57,96.44 L510.75,100.45 L512.93,104.45 L515.14,108.45 L517.35,112.44 L519.58,116.42 L521.83,120.39 L524.10,124.35 L526.39,128.29 L528.70,132.22 L531.04,136.14 L533.40,140.04 L535.78,143.92 L538.20,147.79 L540.64,151.63 L543.12,155.46 L545.63,159.26 L548.17,163.04 L550.75,166.80 L553.36,170.53 L556.02,174.23 L558.71,177.91 L561.43,181.57 L564.14,185.23 L566.84,188.90 L569.49,192.60 L572.08,196.33 L574.58,200.13 L576.98,203.98 L579.28,207.90 L581.49,211.87 L583.62,215.90 L585.67,219.97 L587.65,224.08 L589.57,228.21 L591.43,232.38 L593.24,236.57 L594.99,240.78 L596.69,245.01 L598.35,249.26 L599.96,253.52 L601.52,257.79 L603.05,262.08 L604.53,266.38 L605.98,270.70 L607.40,275.02 L608.78,279.36 L610.13,283.71 L611.46,288.06 L612.76,292.43 L614.03,296.80 L615.29,301.18 L616.53,305.56 L617.75,309.95 L618.95,314.34 L620.15,318.74 L621.34,323.14 L622.51,327.54 L623.69,331.95 L624.86,336.35 L626.03,340.76 L627.20,345.16 L628.38,349.57 L629.56,353.97 L630.75,358.37 L631.95,362.77 L633.17,367.16 L634.40,371.55 L635.65,375.93 L636.92,380.31 L638.21,384.68 L639.52,389.04 M503.53,64.27 L505.57,68.39 L507.61,72.52 L509.66,76.65 L511.72,80.77 L513.79,84.90 L515.89,89.01 L518.01,93.10 L520.17,97.18 L522.38,101.23 L524.62,105.24 L526.92,109.23 L529.28,113.17 L531.71,117.07 L534.20,120.92 L536.77,124.71 L539.42,128.45 L542.16,132.12 L544.98,135.74 L547.86,139.31 L550.79,142.84 L553.76,146.35 L556.75,149.85 L559.75,153.35 L562.75,156.85 L565.73,160.37 L568.70,163.90 L571.64,167.46 L574.54,171.04 L577.40,174.66 L580.20,178.32 L582.95,182.02 L585.64,185.76 L588.27,189.54 L590.83,193.37 L593.32,197.23 L595.74,201.14 L598.09,205.09 L600.36,209.08 L602.56,213.11 L604.66,217.19 L606.69,221.31 L608.62,225.47 L610.47,229.68 L612.23,233.92 L613.94,238.19 L615.59,242.48 L617.20,246.79 L618.77,251.12 L620.30,255.46 L621.79,259.81 L623.26,264.18 L624.69,268.55 L626.09,272.94 L627.47,277.33 L628.83,281.73 L630.17,286.14 L631.50,290.55 L632.81,294.96 L634.11,299.38 L635.40,303.79 L636.68,308.21 L637.95,312.63 L639.22,317.05 L640.47,321.47 L641.72,325.89 L642.96,330.32 L644.18,334.75 L645.40,339.18 L646.61,343.61 L647.80,348.05 L648.98,352.49 L650.16,356.94 L651.32,361.40 L652.46,365.85 L653.60,370.32 L654.72,374.79 L655.83,379.27 L656.92,383.75 L658.01,388.24 M578.69,149.51 L581.53,151.16 L584.35,152.89 L587.16,154.71 L589.93,156.62 L592.65,158.61 L595.32,160.69 L597.93,162.84 L600.46,165.08 L602.90,167.40 L605.25,169.80 L607.49,172.27 L609.62,174.83 L611.62,177.46 L613.50,180.16 L615.26,182.93 L616.91,185.76 L618.47,188.65 L619.93,191.60 L621.30,194.60 L622.59,197.64 L623.82,200.73 L624.97,203.85 L626.07,207.00 L627.12,210.19 L628.13,213.39 L629.10,216.62 L630.04,219.86 L630.96,223.12 L631.86,226.38 L632.76,229.64 L633.66,232.90 L634.56,236.15 L635.48,239.40 L636.42,242.62 L637.39,245.84 L638.37,249.03 L639.37,252.22 L640.39,255.39 L641.42,258.56 L642.47,261.71 L643.53,264.86 L644.59,268.00 L645.67,271.14 L646.75,274.27 L647.84,277.40 L648.93,280.52 L650.02,283.65 L651.12,286.78 L652.21,289.91 L653.29,293.04 L654.37,296.18 L655.45,299.33 L656.51,302.48 L657.57,305.64 L658.61,308.81 L659.64,311.98 L660.67,315.16 L661.67,318.35 L662.67,321.54 L663.65,324.74 L664.62,327.94 L665.57,331.15 L666.50,334.37 L667.42,337.59 L668.31,340.81 L669.19,344.04 L670.05,347.27 L670.89,350.50 L671.71,353.74 L672.51,356.99 L673.28,360.23 L674.03,363.48 L674.76,366.73 L675.46,369.98 L676.14,373.24 L676.79,376.49 L677.41,379.75 L678.01,383.01 L678.57,386.27 M585.80,142.30 L588.58,144.36 L591.34,146.45 L594.09,148.55 L596.81,150.67 L599.50,152.82 L602.15,155.01 L604.77,157.23 L607.34,159.49 L609.87,161.79 L612.35,164.15 L614.76,166.56 L617.12,169.03 L619.41,171.56 L621.63,174.16 L623.77,176.83 L625.84,179.57 L627.83,182.37 L629.75,185.24 L631.60,188.16 L633.38,191.13 L635.09,194.15 L636.74,197.21 L638.31,200.31 L639.83,203.44 L641.28,206.60 L642.66,209.79 L643.99,212.99 L645.26,216.21 L646.47,219.45 L647.62,222.69 L648.72,225.93 L649.77,229.17 L650.78,232.41 L651.76,235.65 L652.74,238.90 L653.71,242.16 L654.70,245.42 L655.73,248.68 L656.79,251.94 L657.89,255.19 L659.00,258.45 L660.14,261.70 L661.27,264.95 L662.40,268.21 L663.52,271.47 L664.61,274.74 L665.68,278.02 L666.71,281.31 L667.69,284.60 L668.63,287.91 L669.54,291.22 L670.42,294.54 L671.27,297.86 L672.10,301.19 L672.92,304.53 L673.73,307.86 L674.53,311.20 L675.34,314.54 L676.14,317.87 L676.96,321.21 L677.79,324.54 L678.64,327.87 L679.51,331.20 L680.40,334.52 L681.29,337.84 L682.20,341.16 L683.11,344.47 L684.03,347.79 L684.95,351.11 L685.86,354.42 L686.77,357.74 L687.68,361.06 L688.57,364.39 L689.45,367.71 L690.32,371.04 L691.16,374.38 L691.99,377.71 L692.79,381.06 L693.56,384.41 M600.75,146.05 L603.69,147.67 L606.58,149.37 L609.43,151.17 L612.23,153.04 L614.98,155.00 L617.68,157.04 L620.33,159.15 L622.92,161.33 L625.46,163.58 L627.94,165.90 L630.36,168.28 L632.72,170.71 L635.02,173.20 L637.26,175.75 L639.43,178.34 L641.54,180.98 L643.58,183.66 L645.57,186.39 L647.49,189.16 L649.34,191.98 L651.14,194.83 L652.88,197.72 L654.56,200.64 L656.19,203.60 L657.75,206.59 L659.26,209.61 L660.71,212.66 L662.11,215.73 L663.45,218.83 L664.73,221.96 L665.97,225.10 L667.15,228.27 L668.29,231.45 L669.39,234.65 L670.46,237.85 L671.52,241.06 L672.57,244.27 L673.60,247.49 L674.61,250.71 L675.61,253.94 L676.58,257.17 L677.53,260.41 L678.46,263.65 L679.36,266.90 L680.23,270.16 L681.07,273.42 L681.88,276.70 L682.66,279.98 L683.41,283.26 L684.14,286.56 L684.86,289.86 L685.55,293.16 L686.24,296.46 L686.92,299.77 L687.59,303.09 L688.26,306.40 L688.94,309.71 L689.62,313.02 L690.31,316.33 L691.01,319.64 L691.73,322.95 L692.47,326.25 L693.23,329.55 L694.02,332.84 L694.83,336.13 L695.66,339.42 L696.51,342.69 L697.38,345.96 L698.28,349.22 L699.20,352.48 L700.14,355.72 L701.10,358.96 L702.09,362.19 L703.09,365.41 L704.12,368.61 L705.17,371.81 L706.24,375.00 L707.33,378.17 L708.45,381.33 M620.83,144.83 L624.44,144.90 L627.83,145.43 L631.02,146.35 L634.03,147.64 L636.86,149.25 L639.54,151.13 L642.09,153.24 L644.51,155.54 L646.83,157.99 L649.06,160.54 L651.21,163.16 L653.30,165.80 L655.33,168.47 L657.26,171.18 L659.09,173.94 L660.79,176.78 L662.38,179.68 L663.86,182.65 L665.25,185.67 L666.59,188.73 L667.88,191.82 L669.14,194.93 L670.40,198.04 L671.67,201.16 L672.96,204.26 L674.26,207.36 L675.56,210.46 L676.85,213.56 L678.11,216.66 L679.34,219.78 L680.53,222.90 L681.67,226.04 L682.75,229.20 L683.79,232.37 L684.82,235.54 L685.85,238.70 L686.90,241.86 L687.97,245.01 L689.04,248.17 L690.09,251.33 L691.12,254.51 L692.14,257.69 L693.13,260.88 L694.11,264.09 L695.08,267.29 L696.03,270.51 L696.97,273.72 L697.89,276.94 L698.81,280.17 L699.71,283.40 L700.61,286.62 L701.50,289.85 L702.38,293.09 L703.26,296.32 L704.14,299.56 L705.01,302.79 L705.88,306.03 L706.74,309.26 L707.61,312.50 L708.48,315.73 L709.35,318.97 L710.22,322.20 L711.10,325.44 L711.98,328.67 L712.87,331.90 L713.76,335.12 L714.66,338.35 L715.58,341.57 L716.50,344.79 L717.43,348.00 L718.37,351.21 L719.33,354.42 L720.30,357.62 L721.29,360.82 L722.29,364.01 L723.31,367.20 L724.35,370.38 L725.41,373.56 L726.49,376.73 M639.31,132.74 L642.99,133.44 L646.52,134.41 L649.88,135.64 L653.06,137.11 L656.04,138.83 L658.80,140.79 L661.35,142.97 L663.65,145.38 L665.74,147.98 L667.64,150.76 L669.36,153.69 L670.94,156.75 L672.40,159.91 L673.77,163.15 L675.06,166.45 L676.31,169.77 L677.54,173.10 L678.78,176.41 L680.03,179.69 L681.29,182.95 L682.55,186.19 L683.81,189.42 L685.07,192.63 L686.32,195.85 L687.56,199.07 L688.77,202.30 L689.97,205.54 L691.15,208.78 L692.33,212.03 L693.51,215.28 L694.69,218.54 L695.89,221.79 L697.10,225.03 L698.33,228.27 L699.58,231.51 L700.84,234.74 L702.12,237.97 L703.41,241.20 L704.69,244.43 L705.98,247.66 L707.27,250.89 L708.55,254.13 L709.82,257.37 L711.07,260.61 L712.31,263.86 L713.53,267.11 L714.72,270.38 L715.89,273.65 L717.02,276.94 L718.12,280.23 L719.20,283.54 L720.24,286.85 L721.27,290.17 L722.27,293.50 L723.26,296.83 L724.23,300.17 L725.19,303.51 L726.14,306.86 L727.08,310.20 L728.02,313.55 L728.96,316.90 L729.90,320.24 L730.84,323.59 L731.80,326.93 L732.76,330.26 L733.73,333.59 L734.72,336.92 L735.73,340.24 L736.76,343.55 L737.81,346.85 L738.88,350.14 L739.99,353.43 L741.13,356.70 L742.31,359.95 L743.53,363.19 L744.84,366.40 L746.24,369.57 L747.76,372.70 L749.44,375.76 M653.51,118.10 L657.43,118.70 L661.07,119.74 L664.42,121.18 L667.50,122.97 L670.31,125.10 L672.87,127.50 L675.19,130.15 L677.26,133.00 L679.12,136.02 L680.80,139.16 L682.35,142.40 L683.82,145.69 L685.26,148.99 L686.70,152.29 L688.12,155.59 L689.53,158.90 L690.94,162.20 L692.33,165.51 L693.73,168.82 L695.11,172.12 L696.49,175.43 L697.87,178.74 L699.25,182.05 L700.62,185.35 L701.99,188.66 L703.36,191.97 L704.73,195.28 L706.10,198.59 L707.47,201.90 L708.84,205.21 L710.22,208.52 L711.59,211.84 L712.96,215.15 L714.33,218.46 L715.69,221.78 L717.05,225.10 L718.41,228.42 L719.75,231.75 L721.09,235.07 L722.43,238.40 L723.75,241.74 L725.06,245.07 L726.36,248.41 L727.65,251.76 L728.93,255.11 L730.19,258.47 L731.43,261.83 L732.66,265.19 L733.88,268.56 L735.07,271.94 L736.25,275.32 L737.40,278.71 L738.54,282.11 L739.65,285.51 L740.74,288.93 L741.81,292.35 L742.85,295.77 L743.87,299.21 L744.86,302.65 L745.82,306.10 L746.75,309.57 L747.66,313.04 L748.53,316.52 L749.37,320.01 L750.18,323.51 L750.96,327.02 L751.71,330.54 L752.44,334.06 L753.18,337.59 L753.92,341.11 L754.68,344.63 L755.48,348.13 L756.32,351.62 L757.22,355.10 L758.18,358.55 L759.23,361.98 L760.37,365.38 L761.61,368.75 L762.97,372.08 M672.64,107.57 L676.25,108.96 L679.59,110.64 L682.66,112.60 L685.48,114.80 L688.09,117.22 L690.49,119.83 L692.70,122.62 L694.74,125.56 L696.63,128.61 L698.39,131.77 L700.04,135.00 L701.59,138.28 L703.06,141.61 L704.45,144.99 L705.77,148.40 L707.04,151.85 L708.25,155.32 L709.44,158.81 L710.59,162.32 L711.73,165.84 L712.86,169.36 L713.99,172.87 L715.13,176.38 L716.29,179.88 L717.47,183.36 L718.66,186.84 L719.86,190.31 L721.08,193.77 L722.31,197.22 L723.54,200.66 L724.79,204.10 L726.04,207.53 L727.30,210.96 L728.56,214.38 L729.83,217.80 L731.09,221.22 L732.36,224.63 L733.63,228.05 L734.90,231.46 L736.16,234.88 L737.42,238.29 L738.67,241.71 L739.91,245.13 L741.15,248.55 L742.38,251.98 L743.59,255.41 L744.80,258.85 L745.99,262.29 L747.16,265.74 L748.32,269.20 L749.46,272.67 L750.59,276.14 L751.69,279.63 L752.78,283.12 L753.85,286.62 L754.91,290.13 L755.95,293.64 L756.99,297.16 L758.01,300.68 L759.03,304.21 L760.05,307.74 L761.06,311.27 L762.06,314.80 L763.07,318.33 L764.08,321.86 L765.09,325.38 L766.10,328.91 L767.12,332.43 L768.15,335.95 L769.18,339.46 L770.23,342.97 L771.29,346.47 L772.36,349.96 L773.45,353.44 L774.56,356.92 L775.68,360.38 L776.83,363.83 L778.00,367.27 L779.19,370.70 M676.81,91.79 L680.62,92.72 L684.25,94.09 L687.68,95.86 L690.93,97.98 L693.98,100.41 L696.83,103.10 L699.48,105.99 L701.91,109.05 L704.14,112.23 L706.17,115.51 L708.04,118.87 L709.77,122.30 L711.40,125.78 L712.95,129.30 L714.46,132.84 L715.95,136.39 L717.43,139.95 L718.91,143.52 L720.39,147.09 L721.86,150.66 L723.33,154.24 L724.80,157.81 L726.27,161.39 L727.74,164.98 L729.21,168.56 L730.67,172.14 L732.15,175.73 L733.62,179.31 L735.10,182.89 L736.58,186.47 L738.06,190.06 L739.53,193.64 L741.00,197.23 L742.46,200.82 L743.90,204.41 L745.32,208.01 L746.73,211.62 L748.10,215.23 L749.45,218.86 L750.76,222.49 L752.04,226.14 L753.28,229.80 L754.48,233.48 L755.64,237.16 L756.78,240.86 L757.89,244.56 L758.99,248.27 L760.07,251.98 L761.14,255.70 L762.20,259.42 L763.27,263.13 L764.33,266.85 L765.41,270.57 L766.51,274.28 L767.62,277.99 L768.74,281.69 L769.89,285.39 L771.04,289.08 L772.21,292.78 L773.38,296.47 L774.56,300.15 L775.74,303.84 L776.91,307.53 L778.09,311.22 L779.26,314.91 L780.42,318.60 L781.56,322.29 L782.70,325.99 L783.82,329.69 L784.92,333.40 L785.99,337.11 L787.05,340.83 L788.07,344.56 L789.07,348.30 L790.04,352.04 L790.97,355.79 L791.93,359.53 L793.27,363.14 L795.40,366.47 M498.40,627.60 L499.52,627.60 L500.65,627.60 L501.77,627.60 L502.89,627.60 L504.01,627.61 L505.14,627.62 L506.26,627.63 L507.38,627.65 L508.51,627.66 L509.63,627.68 L510.75,627.70 L511.88,627.72 L513.00,627.75 L514.12,627.78 L515.25,627.81 L516.37,627.84 L517.49,627.88 L518.62,627.91 L519.74,627.95 L520.86,628.00 L521.99,628.04 L523.11,628.09 L524.23,628.14 L525.35,628.20 L526.48,628.25 L527.60,628.31 L528.72,628.37 L529.84,628.44 L530.97,628.50 L532.09,628.57 L533.21,628.65 L534.33,628.72 L535.45,628.80 L536.57,628.88 L537.69,628.97 L538.81,629.06 L539.93,629.15 L541.05,629.24 L542.17,629.34 L543.29,629.44 L544.41,629.54 L545.53,629.64 L546.65,629.75 L547.76,629.86 L548.88,629.98 L550.00,630.10 L551.12,630.22 L552.23,630.34 L553.35,630.47 L554.46,630.60 L555.58,630.73 L556.70,630.87 L557.81,631.01 L558.92,631.16 L560.04,631.30 L561.15,631.45 L562.26,631.61 L563.38,631.77 L564.49,631.93 L565.60,632.09 L566.71,632.26 L567.82,632.43 L568.93,632.60 L570.04,632.78 L571.15,632.97 L572.25,633.15 L573.36,633.34 L574.47,633.53 L575.57,633.73 L576.68,633.93 L577.78,634.13 L578.89,634.34 L579.99,634.55 L581.10,634.77 L582.20,634.99 L583.30,635.21 L584.40,635.44 L585.50,635.67 L586.60,635.90 M504.90,622.03 L506.14,622.02 L507.38,622.02 L508.62,622.02 L509.86,622.02 L511.10,622.02 L512.35,622.03 L513.59,622.04 L514.83,622.05 L516.07,622.07 L517.31,622.09 L518.56,622.11 L519.80,622.13 L521.04,622.16 L522.28,622.18 L523.52,622.22 L524.76,622.25 L526.01,622.29 L527.25,622.33 L528.49,622.38 L529.73,622.43 L530.97,622.48 L532.21,622.53 L533.45,622.59 L534.69,622.65 L535.93,622.72 L537.17,622.78 L538.41,622.86 L539.65,622.93 L540.89,623.01 L542.13,623.10 L543.37,623.18 L544.61,623.27 L545.85,623.37 L547.08,623.47 L548.32,623.57 L549.56,623.68 L550.79,623.79 L552.03,623.90 L553.26,624.02 L554.50,624.15 L555.73,624.27 L556.97,624.41 L558.20,624.54 L559.43,624.68 L560.66,624.83 L561.90,624.98 L563.13,625.13 L564.36,625.29 L565.59,625.45 L566.82,625.62 L568.04,625.80 L569.27,625.97 L570.50,626.16 L571.72,626.34 L572.95,626.54 L574.17,626.74 L575.40,626.94 L576.62,627.15 L577.84,627.36 L579.06,627.58 L580.29,627.80 L581.51,628.03 L582.72,628.26 L583.94,628.50 L585.16,628.75 L586.37,629.00 L587.59,629.25 L588.80,629.52 L590.02,629.78 L591.23,630.06 L592.44,630.34 L593.65,630.62 L594.86,630.91 L596.07,631.21 L597.28,631.51 L598.48,631.82 L599.69,632.13 L600.89,632.45 L602.09,632.78 M481.50,611.81 L483.26,611.89 L485.01,611.97 L486.77,612.04 L488.52,612.10 L490.28,612.16 L492.04,612.21 L493.80,612.26 L495.56,612.31 L497.33,612.35 L499.09,612.39 L500.86,612.42 L502.62,612.46 L504.39,612.49 L506.16,612.52 L507.93,612.54 L509.70,612.57 L511.47,612.60 L513.24,612.62 L515.01,612.65 L516.78,612.67 L518.55,612.69 L520.32,612.72 L522.10,612.75 L523.87,612.77 L525.64,612.80 L527.41,612.83 L529.19,612.87 L530.96,612.90 L532.73,612.94 L534.50,612.98 L536.28,613.03 L538.05,613.08 L539.82,613.13 L541.59,613.19 L543.36,613.26 L545.13,613.32 L546.90,613.40 L548.67,613.48 L550.44,613.56 L552.21,613.66 L553.97,613.76 L555.74,613.86 L557.50,613.98 L559.27,614.10 L561.03,614.23 L562.79,614.37 L564.55,614.52 L566.31,614.67 L568.06,614.84 L569.82,615.01 L571.57,615.20 L573.33,615.40 L575.08,615.60 L576.83,615.82 L578.57,616.05 L580.32,616.29 L582.06,616.55 L583.80,616.81 L585.54,617.09 L587.28,617.38 L589.02,617.69 L590.75,618.00 L592.48,618.34 L594.21,618.68 L595.93,619.05 L597.66,619.42 L599.38,619.81 L601.10,620.22 L602.81,620.64 L604.53,621.08 L606.24,621.54 L607.95,622.01 L609.65,622.50 L611.35,623.01 L613.05,623.54 L614.75,624.08 L616.44,624.64 L618.13,625.23 L619.82,625.83 M491.42,605.97 L493.32,606.05 L495.22,606.12 L497.13,606.18 L499.04,606.22 L500.94,606.26 L502.86,606.28 L504.77,606.29 L506.68,606.30 L508.60,606.30 L510.52,606.28 L512.44,606.27 L514.36,606.24 L516.28,606.21 L518.20,606.17 L520.13,606.13 L522.05,606.08 L523.98,606.03 L525.90,605.98 L527.83,605.92 L529.76,605.87 L531.69,605.81 L533.61,605.75 L535.54,605.69 L537.47,605.63 L539.40,605.57 L541.33,605.51 L543.26,605.46 L545.19,605.41 L547.11,605.36 L549.04,605.32 L550.97,605.28 L552.90,605.24 L554.82,605.22 L556.75,605.20 L558.67,605.18 L560.59,605.18 L562.52,605.18 L564.44,605.19 L566.36,605.21 L568.27,605.24 L570.19,605.28 L572.11,605.34 L574.02,605.40 L575.93,605.48 L577.84,605.57 L579.75,605.67 L581.66,605.79 L583.56,605.93 L585.46,606.08 L587.36,606.24 L589.26,606.42 L591.15,606.62 L593.04,606.84 L594.93,607.08 L596.82,607.33 L598.70,607.61 L600.58,607.90 L602.46,608.22 L604.34,608.56 L606.21,608.92 L608.07,609.30 L609.94,609.71 L611.80,610.14 L613.66,610.60 L615.51,611.08 L617.36,611.58 L619.20,612.12 L621.05,612.68 L622.88,613.26 L624.72,613.88 L626.55,614.53 L628.37,615.20 L630.19,615.90 L632.01,616.64 L633.82,617.40 L635.62,618.20 L637.42,619.03 L639.22,619.90 L641.01,620.79 M557.20,596.72 L558.50,596.63 L559.80,596.55 L561.11,596.47 L562.41,596.39 L563.72,596.31 L565.02,596.24 L566.33,596.17 L567.64,596.10 L568.95,596.03 L570.26,595.97 L571.57,595.92 L572.88,595.86 L574.20,595.81 L575.51,595.77 L576.82,595.73 L578.14,595.70 L579.45,595.67 L580.76,595.64 L582.08,595.62 L583.39,595.61 L584.71,595.60 L586.02,595.60 L587.33,595.60 L588.65,595.61 L589.96,595.63 L591.27,595.65 L592.58,595.68 L593.90,595.72 L595.21,595.76 L596.52,595.81 L597.82,595.87 L599.13,595.94 L600.44,596.01 L601.75,596.10 L603.05,596.19 L604.35,596.29 L605.66,596.40 L606.96,596.52 L608.26,596.64 L609.56,596.78 L610.85,596.93 L612.15,597.08 L613.44,597.25 L614.73,597.42 L616.02,597.61 L617.31,597.81 L618.59,598.02 L619.88,598.23 L621.16,598.46 L622.44,598.70 L623.71,598.96 L624.99,599.22 L626.26,599.50 L627.53,599.79 L628.79,600.09 L630.06,600.40 L631.32,600.73 L632.58,601.06 L633.83,601.42 L635.08,601.78 L636.33,602.16 L637.58,602.55 L638.82,602.96 L640.06,603.38 L641.29,603.81 L642.53,604.26 L643.75,604.72 L644.98,605.20 L646.20,605.69 L647.42,606.20 L648.63,606.72 L649.84,607.26 L651.05,607.81 L652.25,608.38 L653.44,608.97 L654.64,609.57 L655.83,610.19 L657.01,610.83 L658.19,611.48 M578.59,585.27 L579.88,584.99 L581.18,584.73 L582.47,584.47 L583.77,584.23 L585.07,583.99 L586.37,583.77 L587.67,583.57 L588.97,583.37 L590.28,583.18 L591.59,583.01 L592.90,582.85 L594.21,582.70 L595.52,582.56 L596.83,582.44 L598.14,582.32 L599.45,582.22 L600.77,582.13 L602.08,582.06 L603.40,581.99 L604.71,581.94 L606.03,581.90 L607.34,581.87 L608.66,581.85 L609.97,581.85 L611.29,581.85 L612.60,581.87 L613.92,581.91 L615.23,581.95 L616.54,582.01 L617.85,582.08 L619.17,582.16 L620.47,582.25 L621.78,582.36 L623.09,582.48 L624.40,582.61 L625.70,582.75 L627.00,582.91 L628.30,583.07 L629.60,583.26 L630.90,583.45 L632.19,583.66 L633.49,583.88 L634.78,584.11 L636.06,584.35 L637.35,584.61 L638.63,584.88 L639.91,585.16 L641.19,585.46 L642.46,585.77 L643.73,586.09 L645.00,586.42 L646.26,586.77 L647.52,587.13 L648.78,587.50 L650.03,587.89 L651.28,588.28 L652.53,588.70 L653.77,589.12 L655.00,589.56 L656.24,590.01 L657.46,590.47 L658.69,590.95 L659.91,591.44 L661.12,591.94 L662.33,592.46 L663.53,592.99 L664.73,593.53 L665.93,594.09 L667.12,594.66 L668.30,595.24 L669.48,595.84 L670.65,596.45 L671.82,597.07 L672.98,597.71 L674.13,598.36 L675.28,599.02 L676.42,599.70 L677.56,600.39 L678.69,601.10 M585.49,575.69 L586.88,575.35 L588.28,575.02 L589.68,574.70 L591.08,574.39 L592.49,574.09 L593.90,573.80 L595.31,573.52 L596.72,573.25 L598.14,572.99 L599.56,572.75 L600.99,572.51 L602.41,572.29 L603.84,572.08 L605.27,571.87 L606.70,571.69 L608.13,571.51 L609.56,571.34 L611.00,571.19 L612.44,571.05 L613.87,570.93 L615.31,570.81 L616.75,570.71 L618.19,570.62 L619.63,570.54 L621.07,570.48 L622.51,570.43 L623.94,570.40 L625.38,570.38 L626.82,570.37 L628.26,570.37 L629.69,570.39 L631.13,570.43 L632.56,570.48 L634.00,570.54 L635.43,570.62 L636.86,570.71 L638.28,570.82 L639.71,570.95 L641.13,571.09 L642.55,571.24 L643.97,571.41 L645.39,571.60 L646.80,571.80 L648.21,572.02 L649.62,572.25 L651.02,572.50 L652.42,572.77 L653.81,573.05 L655.21,573.35 L656.59,573.67 L657.98,574.01 L659.36,574.36 L660.73,574.73 L662.10,575.11 L663.47,575.52 L664.83,575.94 L666.18,576.38 L667.53,576.84 L668.88,577.32 L670.22,577.81 L671.55,578.33 L672.88,578.86 L674.20,579.41 L675.51,579.98 L676.82,580.57 L678.12,581.18 L679.42,581.81 L680.71,582.46 L681.99,583.12 L683.26,583.81 L684.53,584.52 L685.78,585.25 L687.03,586.00 L688.28,586.77 L689.51,587.55 L690.74,588.36 L691.95,589.20 L693.16,590.05 L694.36,590.92 M600.08,565.33 L601.46,564.80 L602.85,564.29 L604.25,563.80 L605.65,563.33 L607.05,562.87 L608.45,562.44 L609.86,562.02 L611.26,561.63 L612.68,561.25 L614.09,560.89 L615.51,560.55 L616.92,560.23 L618.34,559.92 L619.76,559.64 L621.19,559.37 L622.61,559.12 L624.04,558.90 L625.46,558.69 L626.89,558.49 L628.32,558.32 L629.75,558.17 L631.18,558.03 L632.61,557.91 L634.04,557.81 L635.47,557.73 L636.90,557.67 L638.33,557.63 L639.76,557.60 L641.19,557.59 L642.62,557.60 L644.05,557.63 L645.48,557.68 L646.90,557.75 L648.33,557.83 L649.75,557.93 L651.17,558.05 L652.59,558.19 L654.01,558.34 L655.42,558.52 L656.84,558.71 L658.25,558.92 L659.66,559.14 L661.07,559.39 L662.47,559.65 L663.87,559.93 L665.27,560.23 L666.66,560.55 L668.05,560.88 L669.44,561.23 L670.82,561.60 L672.20,561.99 L673.58,562.39 L674.95,562.81 L676.32,563.25 L677.68,563.70 L679.04,564.17 L680.40,564.66 L681.74,565.17 L683.09,565.69 L684.43,566.22 L685.76,566.78 L687.09,567.34 L688.42,567.93 L689.74,568.53 L691.05,569.15 L692.35,569.78 L693.66,570.42 L694.95,571.09 L696.24,571.76 L697.52,572.45 L698.80,573.16 L700.07,573.88 L701.33,574.62 L702.58,575.37 L703.83,576.14 L705.07,576.92 L706.31,577.71 L707.54,578.52 L708.75,579.34 M620.50,551.13 L621.80,550.45 L623.11,549.81 L624.43,549.19 L625.75,548.61 L627.07,548.06 L628.40,547.53 L629.73,547.04 L631.07,546.57 L632.41,546.13 L633.75,545.72 L635.10,545.33 L636.45,544.98 L637.81,544.65 L639.17,544.34 L640.53,544.06 L641.89,543.81 L643.26,543.58 L644.63,543.38 L646.00,543.20 L647.37,543.05 L648.75,542.92 L650.13,542.82 L651.51,542.73 L652.89,542.67 L654.27,542.63 L655.65,542.62 L657.03,542.62 L658.42,542.65 L659.80,542.70 L661.19,542.77 L662.58,542.86 L663.96,542.97 L665.35,543.10 L666.73,543.25 L668.12,543.41 L669.50,543.60 L670.88,543.80 L672.26,544.02 L673.65,544.26 L675.03,544.52 L676.40,544.79 L677.78,545.08 L679.15,545.38 L680.53,545.70 L681.90,546.04 L683.26,546.39 L684.63,546.76 L685.99,547.14 L687.35,547.53 L688.71,547.94 L690.06,548.36 L691.41,548.79 L692.75,549.23 L694.10,549.69 L695.43,550.16 L696.77,550.64 L698.10,551.13 L699.42,551.63 L700.74,552.14 L702.06,552.67 L703.37,553.20 L704.67,553.74 L705.97,554.29 L707.27,554.85 L708.56,555.41 L709.84,555.99 L711.12,556.57 L712.39,557.16 L713.65,557.75 L714.91,558.35 L716.16,558.96 L717.40,559.57 L718.64,560.19 L719.86,560.82 L721.09,561.44 L722.30,562.08 L723.51,562.71 L724.70,563.35 L725.89,563.99 M639.32,530.21 L640.70,529.59 L642.09,529.01 L643.48,528.46 L644.87,527.94 L646.27,527.45 L647.67,526.99 L649.07,526.56 L650.48,526.16 L651.88,525.79 L653.29,525.45 L654.70,525.14 L656.12,524.86 L657.53,524.60 L658.95,524.37 L660.37,524.17 L661.79,523.99 L663.21,523.84 L664.64,523.71 L666.07,523.61 L667.49,523.53 L668.92,523.48 L670.35,523.44 L671.78,523.43 L673.22,523.44 L674.65,523.48 L676.08,523.53 L677.52,523.60 L678.95,523.70 L680.39,523.81 L681.82,523.94 L683.26,524.09 L684.70,524.26 L686.13,524.44 L687.57,524.64 L689.01,524.86 L690.44,525.09 L691.88,525.34 L693.31,525.60 L694.75,525.88 L696.18,526.17 L697.62,526.48 L699.05,526.79 L700.48,527.12 L701.91,527.46 L703.34,527.81 L704.77,528.18 L706.20,528.55 L707.62,528.93 L709.05,529.32 L710.47,529.72 L711.89,530.13 L713.31,530.55 L714.73,530.97 L716.14,531.40 L717.55,531.83 L718.96,532.27 L720.37,532.72 L721.78,533.17 L723.18,533.63 L724.58,534.08 L725.98,534.55 L727.38,535.01 L728.77,535.48 L730.16,535.94 L731.54,536.41 L732.93,536.88 L734.30,537.35 L735.68,537.82 L737.05,538.29 L738.42,538.76 L739.79,539.22 L741.15,539.68 L742.51,540.14 L743.86,540.60 L745.21,541.05 L746.55,541.50 L747.89,541.94 L749.23,542.38 L750.56,542.81 M653.28,510.47 L654.63,509.91 L655.99,509.37 L657.35,508.87 L658.71,508.39 L660.08,507.94 L661.45,507.51 L662.83,507.12 L664.20,506.75 L665.58,506.40 L666.97,506.09 L668.35,505.79 L669.74,505.53 L671.13,505.28 L672.52,505.07 L673.92,504.87 L675.31,504.70 L676.71,504.55 L678.11,504.43 L679.51,504.32 L680.92,504.24 L682.32,504.18 L683.73,504.14 L685.14,504.12 L686.54,504.12 L687.95,504.14 L689.36,504.18 L690.77,504.24 L692.19,504.32 L693.60,504.41 L695.01,504.53 L696.42,504.66 L697.83,504.80 L699.25,504.97 L700.66,505.15 L702.07,505.34 L703.48,505.56 L704.89,505.78 L706.30,506.02 L707.71,506.28 L709.12,506.55 L710.53,506.83 L711.93,507.12 L713.34,507.43 L714.74,507.75 L716.14,508.08 L717.55,508.42 L718.94,508.77 L720.34,509.14 L721.74,509.51 L723.13,509.89 L724.52,510.29 L725.91,510.69 L727.30,511.10 L728.68,511.51 L730.06,511.94 L731.44,512.37 L732.81,512.81 L734.19,513.26 L735.55,513.71 L736.92,514.17 L738.28,514.63 L739.64,515.10 L741.00,515.57 L742.35,516.04 L743.70,516.52 L745.04,517.01 L746.38,517.49 L747.71,517.98 L749.04,518.47 L750.37,518.96 L751.69,519.45 L753.01,519.95 L754.32,520.44 L755.63,520.94 L756.93,521.43 L758.23,521.92 L759.52,522.41 L760.81,522.90 L762.09,523.39 M671.96,490.29 L673.33,489.88 L674.71,489.49 L676.08,489.13 L677.45,488.79 L678.83,488.48 L680.21,488.18 L681.58,487.91 L682.96,487.66 L684.34,487.44 L685.72,487.23 L687.10,487.05 L688.48,486.88 L689.86,486.74 L691.25,486.62 L692.63,486.52 L694.01,486.43 L695.39,486.37 L696.78,486.32 L698.16,486.29 L699.55,486.28 L700.93,486.29 L702.31,486.32 L703.70,486.36 L705.08,486.42 L706.47,486.49 L707.85,486.58 L709.23,486.69 L710.62,486.81 L712.00,486.95 L713.38,487.10 L714.76,487.26 L716.15,487.44 L717.53,487.63 L718.91,487.83 L720.29,488.05 L721.67,488.28 L723.04,488.52 L724.42,488.78 L725.80,489.04 L727.17,489.32 L728.55,489.60 L729.92,489.90 L731.29,490.21 L732.66,490.52 L734.03,490.85 L735.40,491.18 L736.77,491.52 L738.13,491.87 L739.50,492.23 L740.86,492.60 L742.22,492.97 L743.58,493.35 L744.94,493.74 L746.29,494.13 L747.65,494.53 L749.00,494.93 L750.35,495.34 L751.70,495.75 L753.04,496.17 L754.39,496.59 L755.73,497.01 L757.07,497.44 L758.41,497.87 L759.74,498.31 L761.07,498.74 L762.40,499.18 L763.73,499.62 L765.06,500.06 L766.38,500.50 L767.70,500.94 L769.02,501.38 L770.33,501.82 L771.64,502.26 L772.95,502.70 L774.25,503.14 L775.56,503.57 L776.86,504.01 L778.15,504.44 L779.45,504.87 M676.95,476.28 L678.41,475.75 L679.87,475.26 L681.33,474.79 L682.80,474.35 L684.27,473.94 L685.74,473.56 L687.22,473.20 L688.70,472.86 L690.19,472.56 L691.68,472.27 L693.17,472.01 L694.66,471.78 L696.16,471.57 L697.66,471.38 L699.16,471.21 L700.67,471.07 L702.18,470.95 L703.69,470.84 L705.20,470.76 L706.71,470.70 L708.23,470.66 L709.74,470.63 L711.26,470.63 L712.78,470.64 L714.30,470.67 L715.83,470.72 L717.35,470.78 L718.88,470.86 L720.40,470.96 L721.93,471.07 L723.46,471.19 L724.98,471.33 L726.51,471.49 L728.04,471.65 L729.57,471.83 L731.10,472.02 L732.62,472.23 L734.15,472.44 L735.68,472.66 L737.21,472.90 L738.73,473.14 L740.26,473.40 L741.79,473.66 L743.31,473.94 L744.83,474.22 L746.36,474.51 L747.88,474.81 L749.40,475.12 L750.92,475.43 L752.43,475.76 L753.95,476.09 L755.46,476.42 L756.97,476.76 L758.48,477.11 L759.99,477.47 L761.50,477.83 L763.00,478.19 L764.50,478.56 L766.00,478.94 L767.50,479.31 L768.99,479.70 L770.48,480.08 L771.97,480.47 L773.45,480.86 L774.93,481.26 L776.41,481.65 L777.89,482.05 L779.36,482.45 L780.83,482.85 L782.29,483.26 L783.75,483.66 L785.21,484.06 L786.66,484.47 L788.11,484.87 L789.55,485.27 L790.99,485.67 L792.43,486.08 L793.86,486.47 L795.29,486.87" stroke="#111" stroke-width="1.6" fill="none"/>
<line x1="612.3" y1="217.6" x2="729.3" y2="75.8" stroke="#c4582f" stroke-width="1.0"/>
<circle cx="607.9" cy="222.9" r="6.9" stroke="#c4582f" stroke-width="1.1" fill="none"/>
<g fill="#3b3d7a">
<circle cx="536" cy="236.2" r="1.9"/>
<circle cx="545.7" cy="225.5" r="1.9"/>
<circle cx="565.9" cy="222.9" r="1.9"/>
<circle cx="592.5" cy="234.3" r="1.9"/>
<circle cx="607.9" cy="222.9" r="1.9"/>
<circle cx="621.5" cy="193.9" r="1.9"/>
<circle cx="636.9" cy="198.0" r="1.9"/>
<circle cx="663.1" cy="215.8" r="1.9"/>
<circle cx="672.6" cy="202.1" r="1.9"/>
<circle cx="684.9" cy="193.4" r="1.9"/>
<circle cx="716" cy="177.6" r="1.9"/>
<circle cx="721.2" cy="234.3" r="1.9"/>
<circle cx="735" cy="182.5" r="1.9"/>
</g>
<text x="480.50" y="60.80" font-size="9.8" textLength="11.86" lengthAdjust="spacingAndGlyphs" text-anchor="start" fill="#111" stroke="#111" stroke-width="0.35">12°</text>
<text x="492.10" y="60.80" font-size="9.8" textLength="11.86" lengthAdjust="spacingAndGlyphs" text-anchor="start" fill="#111" stroke="#111" stroke-width="0.35">14°</text>
<text x="493.00" y="123.60" font-size="9.8" textLength="11.86" lengthAdjust="spacingAndGlyphs" text-anchor="start" fill="#111" stroke="#111" stroke-width="0.35">10°</text>
<text x="489.10" y="137.40" font-size="9.8" textLength="7.50" lengthAdjust="spacingAndGlyphs" text-anchor="start" fill="#111" stroke="#111" stroke-width="0.35">8°</text>
<text x="569.80" y="146.30" font-size="9.8" textLength="11.86" lengthAdjust="spacingAndGlyphs" text-anchor="start" fill="#111" stroke="#111" stroke-width="0.35">18°</text>
<text x="579.80" y="136.60" font-size="9.8" textLength="11.86" lengthAdjust="spacingAndGlyphs" text-anchor="start" fill="#111" stroke="#111" stroke-width="0.35">20°</text>
<text x="594.70" y="140.50" font-size="9.8" textLength="11.86" lengthAdjust="spacingAndGlyphs" text-anchor="start" fill="#111" stroke="#111" stroke-width="0.35">22°</text>
<text x="608.50" y="144.50" font-size="9.8" textLength="11.86" lengthAdjust="spacingAndGlyphs" text-anchor="start" fill="#111" stroke="#111" stroke-width="0.35">24°</text>
<text x="624.20" y="133.50" font-size="9.8" textLength="11.86" lengthAdjust="spacingAndGlyphs" text-anchor="start" fill="#111" stroke="#111" stroke-width="0.35">26°</text>
<text x="639.20" y="120.60" font-size="9.8" textLength="11.86" lengthAdjust="spacingAndGlyphs" text-anchor="start" fill="#111" stroke="#111" stroke-width="0.35">28°</text>
<text x="657.70" y="109.50" font-size="9.8" textLength="11.86" lengthAdjust="spacingAndGlyphs" text-anchor="start" fill="#111" stroke="#111" stroke-width="0.35">30°</text>
<text x="661.70" y="92.70" font-size="9.8" textLength="11.86" lengthAdjust="spacingAndGlyphs" text-anchor="start" fill="#111" stroke="#111" stroke-width="0.35">32°</text>
<text x="505.00" y="60.80" font-size="9.8" textLength="11.86" lengthAdjust="spacingAndGlyphs" text-anchor="start" fill="#111" stroke="#111" stroke-width="0.35">16°</text>
<rect x="504.3" y="52.3" width="15.4" height="11.4" fill="none" stroke="#b3262d" stroke-width="0.9"/>
<rect x="587.1" y="632.5" width="13" height="9" fill="#fff"/>
<text x="593.60" y="640.40" font-size="9.8" textLength="7.50" lengthAdjust="spacingAndGlyphs" text-anchor="middle" fill="#111" stroke="#111" stroke-width="0.35">8°</text>
<rect x="603.5" y="629.3" width="13" height="9" fill="#fff"/>
<text x="610.00" y="637.20" font-size="9.8" textLength="11.86" lengthAdjust="spacingAndGlyphs" text-anchor="middle" fill="#111" stroke="#111" stroke-width="0.35">10°</text>
<rect x="622.5" y="623.5" width="13" height="9" fill="#fff"/>
<text x="629.00" y="631.40" font-size="9.8" textLength="11.86" lengthAdjust="spacingAndGlyphs" text-anchor="middle" fill="#111" stroke="#111" stroke-width="0.35">12°</text>
<rect x="643.1" y="618.0" width="13" height="9" fill="#fff"/>
<text x="649.60" y="625.90" font-size="9.8" textLength="11.86" lengthAdjust="spacingAndGlyphs" text-anchor="middle" fill="#111" stroke="#111" stroke-width="0.35">14°</text>
<rect x="661.0" y="609.9" width="13" height="9" fill="#fff"/>
<text x="667.50" y="617.80" font-size="9.8" textLength="11.86" lengthAdjust="spacingAndGlyphs" text-anchor="middle" fill="#111" stroke="#111" stroke-width="0.35">16°</text>
<rect x="681.9" y="598.2" width="13" height="9" fill="#fff"/>
<text x="688.40" y="606.10" font-size="9.8" textLength="11.86" lengthAdjust="spacingAndGlyphs" text-anchor="middle" fill="#111" stroke="#111" stroke-width="0.35">18°</text>
<rect x="696.4" y="587.5" width="13" height="9" fill="#fff"/>
<text x="702.90" y="595.40" font-size="9.8" textLength="11.86" lengthAdjust="spacingAndGlyphs" text-anchor="middle" fill="#111" stroke="#111" stroke-width="0.35">20°</text>
<rect x="712.5" y="575.4" width="13" height="9" fill="#fff"/>
<text x="719.00" y="583.30" font-size="9.8" textLength="11.86" lengthAdjust="spacingAndGlyphs" text-anchor="middle" fill="#111" stroke="#111" stroke-width="0.35">22°</text>
<rect x="728.5" y="559.9" width="13" height="9" fill="#fff"/>
<text x="735.00" y="567.80" font-size="9.8" textLength="11.86" lengthAdjust="spacingAndGlyphs" text-anchor="middle" fill="#111" stroke="#111" stroke-width="0.35">24°</text>
<rect x="752.5" y="539.3" width="13" height="9" fill="#fff"/>
<text x="759.00" y="547.20" font-size="9.8" textLength="11.86" lengthAdjust="spacingAndGlyphs" text-anchor="middle" fill="#111" stroke="#111" stroke-width="0.35">26°</text>
<rect x="764.6" y="520.0" width="13" height="9" fill="#fff"/>
<text x="771.10" y="527.90" font-size="9.8" textLength="11.86" lengthAdjust="spacingAndGlyphs" text-anchor="middle" fill="#111" stroke="#111" stroke-width="0.35">28°</text>
<rect x="781.3" y="501.8" width="13" height="9" fill="#fff"/>
<text x="787.80" y="509.70" font-size="9.8" textLength="11.86" lengthAdjust="spacingAndGlyphs" text-anchor="middle" fill="#111" stroke="#111" stroke-width="0.35">30°</text>
<rect x="795.5" y="488.8" width="13" height="9" fill="#fff"/>
<text x="802.00" y="496.70" font-size="9.8" textLength="11.86" lengthAdjust="spacingAndGlyphs" text-anchor="middle" fill="#111" stroke="#111" stroke-width="0.35">32°</text>
<path d="M809.0,452.5V650.5" stroke="#111" stroke-width="1.1"/>
<rect x="715.5" y="52" width="92" height="22" fill="#fff"/>
<text x="787.60" y="61.00" font-size="9.3" textLength="53.77" lengthAdjust="spacingAndGlyphs" text-anchor="end" fill="#cc1f1f" stroke="#cc1f1f" stroke-width="0.1">pracovní bod</text>
<text x="806.40" y="71.80" font-size="9.3" textLength="89.42" lengthAdjust="spacingAndGlyphs" text-anchor="end" fill="#cc1f1f" stroke="#cc1f1f" stroke-width="0.1">s maximální účinností</text>
<g stroke="#2b2b80" stroke-width="2.8" stroke-dasharray="5.6 3.6" stroke-dashoffset="0.8" fill="none">
<path d="M478.6,251.4H615" stroke-dashoffset="6.4" stroke-width="2.5"/><path d="M478.6,332.4H615"/><path d="M478.6,597.4H615"/>
<path d="M620.4,257V429.5" stroke-width="2.4"/><path d="M620.4,603.5V650" stroke-width="2.4"/>
</g>
<rect x="497.9" y="152.8" width="14.8" height="9.2" fill="#fff"/>
<text x="505.30" y="160.95" font-size="9.9" textLength="13.38" lengthAdjust="spacingAndGlyphs" text-anchor="middle" fill="#2a2b78" stroke="#2a2b78" stroke-width="0.2">102</text>
<rect x="538.3" y="152.8" width="14.8" height="9.2" fill="#fff"/>
<text x="545.70" y="160.95" font-size="9.9" textLength="13.38" lengthAdjust="spacingAndGlyphs" text-anchor="middle" fill="#2a2b78" stroke="#2a2b78" stroke-width="0.2">105</text>
<rect x="595.9" y="152.8" width="14.8" height="9.2" fill="#fff"/>
<text x="603.30" y="160.95" font-size="9.9" textLength="13.38" lengthAdjust="spacingAndGlyphs" text-anchor="middle" fill="#2a2b78" stroke="#2a2b78" stroke-width="0.2">102</text>
<rect x="664.3" y="152.8" width="14.8" height="9.2" fill="#fff"/>
<text x="671.70" y="160.95" font-size="9.9" textLength="13.38" lengthAdjust="spacingAndGlyphs" text-anchor="middle" fill="#2a2b78" stroke="#2a2b78" stroke-width="0.2">102</text>
<rect x="718.8" y="152.8" width="14.8" height="9.2" fill="#fff"/>
<text x="726.20" y="160.95" font-size="9.9" textLength="13.38" lengthAdjust="spacingAndGlyphs" text-anchor="middle" fill="#2a2b78" stroke="#2a2b78" stroke-width="0.2">104</text>
<rect x="536.2" y="246.8" width="14.8" height="9.2" fill="#fff"/>
<text x="543.60" y="254.95" font-size="9.9" textLength="13.38" lengthAdjust="spacingAndGlyphs" text-anchor="middle" fill="#2a2b78" stroke="#2a2b78" stroke-width="0.2">105</text>
<rect x="593.4" y="246.8" width="14.8" height="9.2" fill="#fff"/>
<text x="600.80" y="254.95" font-size="9.9" textLength="13.38" lengthAdjust="spacingAndGlyphs" text-anchor="middle" fill="#2a2b78" stroke="#2a2b78" stroke-width="0.2">103</text>
<rect x="651.3" y="247.6" width="14.8" height="9.2" fill="#fff"/>
<text x="658.70" y="255.75" font-size="9.9" textLength="13.38" lengthAdjust="spacingAndGlyphs" text-anchor="middle" fill="#2a2b78" stroke="#2a2b78" stroke-width="0.2">100</text>
<rect x="700.3" y="247.6" width="14.8" height="9.2" fill="#fff"/>
<text x="707.70" y="255.75" font-size="9.9" textLength="13.38" lengthAdjust="spacingAndGlyphs" text-anchor="middle" fill="#2a2b78" stroke="#2a2b78" stroke-width="0.2">101</text>
<rect x="568.1" y="344.2" width="14.8" height="9.2" fill="#fff"/>
<text x="575.50" y="352.35" font-size="9.9" textLength="13.38" lengthAdjust="spacingAndGlyphs" text-anchor="middle" fill="#2a2b78" stroke="#2a2b78" stroke-width="0.2">105</text>
<rect x="623.2" y="344.6" width="14.8" height="9.2" fill="#fff"/>
<text x="630.60" y="352.75" font-size="9.9" textLength="13.38" lengthAdjust="spacingAndGlyphs" text-anchor="middle" fill="#2a2b78" stroke="#2a2b78" stroke-width="0.2">102</text>
<rect x="679.6" y="344.9" width="14.8" height="9.2" fill="#fff"/>
<text x="687.00" y="353.05" font-size="9.9" textLength="13.38" lengthAdjust="spacingAndGlyphs" text-anchor="middle" fill="#2a2b78" stroke="#2a2b78" stroke-width="0.2">100</text>
<rect x="732.6" y="344.3" width="14.8" height="9.2" fill="#fff"/>
<text x="740.00" y="352.45" font-size="9.9" textLength="13.38" lengthAdjust="spacingAndGlyphs" text-anchor="middle" fill="#2a2b78" stroke="#2a2b78" stroke-width="0.2">101</text>
<rect x="783.8" y="344.9" width="14.8" height="9.2" fill="#fff"/>
<text x="791.20" y="353.05" font-size="9.9" textLength="13.38" lengthAdjust="spacingAndGlyphs" text-anchor="middle" fill="#2a2b78" stroke="#2a2b78" stroke-width="0.2">103</text>
<rect x="749.8" y="247" width="59" height="10.5" fill="#fff"/>
<text x="750.90" y="255.60" font-size="9.2" textLength="57.61" lengthAdjust="spacingAndGlyphs" text-anchor="start" fill="#2d2e83" stroke="#2d2e83" stroke-width="0.35">104 dB(A) [LwA]</text>
<g stroke="#2b2b85" stroke-width="2.2">
<path d="M615.2,247.5L624.4,255.7M624.4,247.5L615.2,255.7"/>
<path d="M615.6,328.9L624.8,337.1M624.8,328.9L615.6,337.1"/>
<path d="M615.6,594.3L624.8,602.5M624.8,594.3L615.6,602.5"/>
</g>
<g fill="#fff" stroke="#a8262c" stroke-width="0.9">
<rect x="456.5" y="244.4" width="22" height="11.2"/>
<rect x="456.5" y="327.2" width="22" height="10.5"/>
<rect x="450.4" y="591" width="28.4" height="11.3"/>
<rect x="606.4" y="408.3" width="28" height="10.6"/>
<rect x="606.4" y="430.5" width="28" height="10.2"/>
<rect x="606.6" y="654.6" width="27.8" height="10.9"/>
</g>
<text x="467.80" y="253.50" font-size="9.8" textLength="14.23" lengthAdjust="spacingAndGlyphs" text-anchor="middle" fill="#c8402a" stroke="#c8402a" stroke-width="0.35">300</text>
<text x="467.80" y="335.70" font-size="9.8" textLength="14.23" lengthAdjust="spacingAndGlyphs" text-anchor="middle" fill="#c8402a" stroke="#c8402a" stroke-width="0.35">120</text>
<text x="464.60" y="600.10" font-size="9.8" textLength="18.97" lengthAdjust="spacingAndGlyphs" text-anchor="middle" fill="#111" stroke="#111" stroke-width="0.35">7200</text>
<text x="620.40" y="416.90" font-size="9.8" textLength="23.71" lengthAdjust="spacingAndGlyphs" text-anchor="middle" fill="#111" stroke="#111" stroke-width="0.35">40000</text>
<text x="620.40" y="439.10" font-size="9.8" textLength="15.96" lengthAdjust="spacingAndGlyphs" text-anchor="middle" fill="#111" stroke="#111" stroke-width="0.35">11,1</text>
<text x="620.40" y="663.30" font-size="9.8" textLength="23.71" lengthAdjust="spacingAndGlyphs" text-anchor="middle" fill="#111" stroke="#111" stroke-width="0.35">40000</text>
</g></svg>
<div class="tb " style="left:407.60px;top:1017.88px;font-size:14.2px;line-height:16px;transform:scaleX(0.9370);"><b>Vysvětlivky – graf:</b></div>
<div class="tb " style="left:407.80px;top:1049.83px;font-size:14.2px;line-height:16.3px;transform:scaleX(0.9550);">p<sub>st</sub></div>
<div class="tb " style="left:407.80px;top:1066.13px;font-size:14.2px;line-height:16.3px;transform:scaleX(0.9550);">Q</div>
<div class="tb " style="left:457.10px;top:1049.83px;font-size:14.2px;line-height:16.3px;transform:scaleX(0.9493);">statický tlak v Pa</div>
<div class="tb " style="left:457.10px;top:1066.13px;font-size:14.2px;line-height:16.3px;transform:scaleX(0.9608);">objem vzduchu v m³/h</div>
<div class="tb " style="left:457.10px;top:1082.43px;font-size:14.2px;line-height:16.3px;transform:scaleX(0.9650);">a m³/s</div>
<div class="tb " style="left:407.80px;top:1098.73px;font-size:14.2px;line-height:16.3px;transform:scaleX(0.9248);">suchý vzduch 20 °C, tlak vzduchu</div>
<div class="tb " style="left:407.80px;top:1115.03px;font-size:14.2px;line-height:16.3px;transform:scaleX(0.9400);">760 mmHg</div>
<div class="tb " style="left:407.80px;top:1147.83px;font-size:14.2px;line-height:16.1px;transform:scaleX(0.9446);">Kategorie měření: D, kategorie</div>
<div class="tb " style="left:407.80px;top:1163.93px;font-size:14.2px;line-height:16.1px;transform:scaleX(0.9581);">energetické účinnosti celková.</div>
<div class="tb " style="left:407.80px;top:1180.03px;font-size:14.2px;line-height:16.1px;transform:scaleX(0.9483);">Měřeno v souladu s normami ISO</div>
<div class="tb " style="left:407.80px;top:1196.13px;font-size:14.2px;line-height:16.1px;transform:scaleX(0.9623);">5801 a AMCA 210-99.</div>
<div class="tb " style="left:645.50px;top:1017.68px;font-size:14.2px;line-height:16px;transform:scaleX(0.9350);"><b>Vysvětlivky – tabulka:</b></div>
<div class="tb " style="left:645.60px;top:1050.46px;font-size:14.2px;line-height:16.63px;transform:scaleX(0.9550);">PM</div>
<div class="tb " style="left:645.60px;top:1067.09px;font-size:14.2px;line-height:16.63px;transform:scaleX(0.9550);">MC</div>
<div class="tb " style="left:645.60px;top:1083.72px;font-size:14.2px;line-height:16.63px;transform:scaleX(0.9550);">EC</div>
<div class="tb " style="left:645.60px;top:1100.35px;font-size:14.2px;line-height:16.63px;transform:scaleX(0.9550);">VSD</div>
<div class="tb " style="left:645.60px;top:1116.98px;font-size:14.2px;line-height:16.63px;transform:scaleX(0.9550);">SR</div>
<div class="tb " style="left:645.60px;top:1133.61px;font-size:14.2px;line-height:16.63px;transform:scaleX(0.9550);">η[%]</div>
<div class="tb " style="left:645.60px;top:1150.24px;font-size:14.2px;line-height:16.63px;transform:scaleX(0.9550);">N</div>
<div class="tb " style="left:645.60px;top:1166.87px;font-size:14.2px;line-height:16.63px;transform:scaleX(0.9550);">[kW]</div>
<div class="tb " style="left:645.60px;top:1183.50px;font-size:14.2px;line-height:16.63px;transform:scaleX(0.9550);">[m³/h]</div>
<div class="tb " style="left:645.60px;top:1200.13px;font-size:14.2px;line-height:16.63px;transform:scaleX(0.9550);">[Pa]</div>
<div class="tb " style="left:645.60px;top:1216.76px;font-size:14.2px;line-height:16.63px;transform:scaleX(0.9550);">[RPM]</div>
<div class="tb " style="left:694.50px;top:1050.46px;font-size:14.2px;line-height:16.63px;transform:scaleX(0.9550);">výkon motoru [kW]</div>
<div class="tb " style="left:694.50px;top:1067.09px;font-size:14.2px;line-height:16.63px;transform:scaleX(0.9438);">kategorie měření</div>
<div class="tb " style="left:694.50px;top:1083.72px;font-size:14.2px;line-height:16.63px;transform:scaleX(0.9625);">kat. energetické účinnosti</div>
<div class="tb " style="left:694.50px;top:1100.35px;font-size:14.2px;line-height:16.63px;transform:scaleX(0.8705);">regulace otáček (v dodávce)</div>
<div class="tb " style="left:694.50px;top:1116.98px;font-size:14.2px;line-height:16.63px;transform:scaleX(0.9650);">specifický poměr</div>
<div class="tb " style="left:694.50px;top:1133.61px;font-size:14.2px;line-height:16.63px;transform:scaleX(0.9552);">celková účinnost</div>
<div class="tb " style="left:694.50px;top:1150.24px;font-size:14.2px;line-height:16.63px;transform:scaleX(0.9477);">účinnost</div>
<div class="tb " style="left:694.50px;top:1166.87px;font-size:14.2px;line-height:16.63px;transform:scaleX(0.9400);">výkon na hřídeli</div>
<div class="tb " style="left:694.50px;top:1183.50px;font-size:14.2px;line-height:16.63px;transform:scaleX(0.9650);">průtok vzduchu</div>
<div class="tb " style="left:694.50px;top:1200.13px;font-size:14.2px;line-height:16.63px;transform:scaleX(0.9623);">statický tlak</div>
<div class="tb " style="left:694.50px;top:1216.76px;font-size:14.2px;line-height:16.63px;transform:scaleX(0.9568);">otáčky za minutu</div>
</body></html>
